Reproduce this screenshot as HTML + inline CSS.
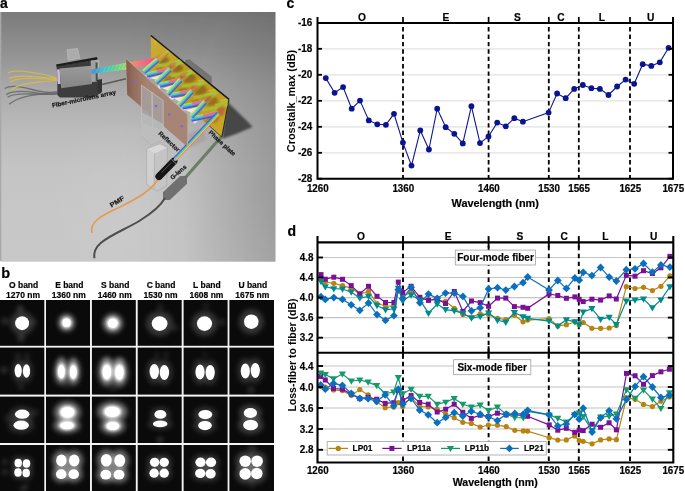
<!DOCTYPE html><html><head><meta charset="utf-8"><style>html,body{margin:0;padding:0;background:#fff;}svg{display:block;-webkit-font-smoothing:antialiased;will-change:transform;}</style></head><body>
<svg width="685" height="491" viewBox="0 0 685 491" font-family='"Liberation Sans", sans-serif'>
<defs>
<filter id="g1" x="-50%" y="-50%" width="200%" height="200%"><feGaussianBlur stdDeviation="0.75"/></filter>
<filter id="g2" x="-60%" y="-60%" width="220%" height="220%"><feGaussianBlur stdDeviation="1.5"/></filter>
<filter id="g3" x="-80%" y="-80%" width="260%" height="260%"><feGaussianBlur stdDeviation="2.6"/></filter>
<linearGradient id="bgA" gradientUnits="userSpaceOnUse" x1="0" y1="12" x2="0" y2="261">
<stop offset="0" stop-color="#7b7b7b"/><stop offset="0.15" stop-color="#909090"/><stop offset="0.31" stop-color="#aaaaaa"/><stop offset="0.47" stop-color="#bbbbbb"/><stop offset="0.63" stop-color="#c4c4c4"/><stop offset="0.8" stop-color="#c7c7c7"/><stop offset="1" stop-color="#c8c8c8"/>
</linearGradient>

<linearGradient id="inbeam" gradientUnits="userSpaceOnUse" x1="91" y1="0" x2="127" y2="0">
<stop offset="0" stop-color="#4a90e0"/><stop offset="0.35" stop-color="#50c8c8"/><stop offset="0.7" stop-color="#70d890"/><stop offset="1" stop-color="#a8e070"/></linearGradient>
<linearGradient id="inbeam2" gradientUnits="userSpaceOnUse" x1="126" y1="0" x2="159" y2="0">
<stop offset="0" stop-color="#f0a060"/><stop offset="0.5" stop-color="#f07080"/><stop offset="1" stop-color="#f04890"/></linearGradient>
<linearGradient id="fmaf" gradientUnits="userSpaceOnUse" x1="0" y1="66" x2="0" y2="88">
<stop offset="0" stop-color="#9a9a9a"/><stop offset="1" stop-color="#858585"/></linearGradient>
<filter id="soft" x="0" y="0" width="100%" height="100%"><feGaussianBlur stdDeviation="0.45"/></filter>
<filter id="b2" x="-50%" y="-50%" width="200%" height="200%"><feGaussianBlur stdDeviation="2.2"/></filter>
<filter id="b1" x="-50%" y="-50%" width="200%" height="200%"><feGaussianBlur stdDeviation="1.2"/></filter>
<filter id="b05" x="-20%" y="-20%" width="140%" height="140%"><feGaussianBlur stdDeviation="0.6"/></filter>
<linearGradient id="gold" gradientUnits="userSpaceOnUse" x1="150" y1="40" x2="228" y2="130">
<stop offset="0" stop-color="#cfac32"/><stop offset="0.4" stop-color="#bb9a24"/><stop offset="0.7" stop-color="#c09c22"/><stop offset="1" stop-color="#cca828"/></linearGradient>
<linearGradient id="refl" gradientUnits="userSpaceOnUse" x1="126" y1="0" x2="188" y2="0">
<stop offset="0" stop-color="#7e5644"/><stop offset="0.12" stop-color="#93695a"/><stop offset="0.35" stop-color="#a7816f"/><stop offset="1" stop-color="#a58272"/></linearGradient>
<linearGradient id="bgA4" gradientUnits="userSpaceOnUse" x1="120" y1="0" x2="275" y2="0">
<stop offset="0" stop-color="#000" stop-opacity="0"/><stop offset="1" stop-color="#000" stop-opacity="0.065"/></linearGradient>
<radialGradient id="bgA2" gradientUnits="userSpaceOnUse" cx="0" cy="0" r="1" gradientTransform="translate(310,190) scale(130,220)">
<stop offset="0" stop-color="#000" stop-opacity="0.22"/><stop offset="1" stop-color="#000" stop-opacity="0"/></radialGradient>
<radialGradient id="bgA3" gradientUnits="userSpaceOnUse" cx="135" cy="200" r="90">
<stop offset="0" stop-color="#fff" stop-opacity="0.06"/><stop offset="1" stop-color="#fff" stop-opacity="0"/></radialGradient>

</defs>
<rect width="685" height="491" fill="#fff"/>
<text x="4.0" y="7.8" font-size="14" text-anchor="middle" font-weight="bold"  stroke="#000" stroke-width="0.18">a</text>
<g filter="url(#soft)">
<rect x="0.8" y="12" width="274.7" height="249.7" fill="url(#bgA)"/>
<rect x="0.8" y="12" width="274.7" height="249.7" fill="url(#bgA2)"/>
<rect x="0.8" y="12" width="274.7" height="249.7" fill="url(#bgA3)"/>
<rect x="0.8" y="12" width="274.7" height="249.7" fill="url(#bgA4)"/>
<rect x="0" y="12" width="1.3" height="249" fill="#a8a8a8"/>
<path d="M227.5,102 L247,121 L252.5,127 L236,134 L222,139 Z" fill="#434343" opacity="0.95" filter="url(#b1)"/>
<path d="M187.3,134 L203,128 L206,140 L190,148 Z" fill="#9a9088" opacity="0.4" filter="url(#b1)"/>
<path d="M183.5,180 L166.5,196" stroke="#6a6a6a" stroke-width="10.5" stroke-linecap="round" opacity="0.92" filter="url(#b05)"/>
<path d="M221.5,136.5 L185.5,177.5" stroke="#607556" stroke-width="3.2" opacity="0.85" filter="url(#b05)"/>
<path d="M165,198 C160,207 152,213 140,220.5 C128,228 110,235 100.7,243 C95,248 93.5,253 94.5,258.3" stroke="#4e4e4e" stroke-width="2" fill="none" filter="url(#b05)"/>
<path d="M102,84.5 L126,78.8" stroke="#4a5040" stroke-width="1.6" opacity="0.85"/>
<path d="M4.6,88.5 Q12,84 30,89 T57,91.6" stroke="#666" stroke-width="1.3" fill="none" opacity="0.85"/>
<path d="M6.1,94.6 Q15,89.5 35,92.6 T57,93" stroke="#666" stroke-width="1.3" fill="none" opacity="0.85"/>
<path d="M7.6,97.2 Q14,93 32,94 T57,93.5" stroke="#666" stroke-width="1.3" fill="none" opacity="0.85"/>
<path d="M9.2,104.3 Q18,96.5 40.7,94.1 T57,94" stroke="#666" stroke-width="1.3" fill="none" opacity="0.85"/>
<path d="M8.1,73.2 Q12,69.5 30.5,72.2 T57,78.3" stroke="#d8ba48" stroke-width="1.1" fill="none"/>
<path d="M9.2,78.8 Q15,74.8 35.6,76.8 T57,78.6" stroke="#d8ba48" stroke-width="1.1" fill="none"/>
<path d="M10.2,81.9 Q18,77.5 38,78.5 T57,79" stroke="#d8ba48" stroke-width="1.1" fill="none"/>
<path d="M11.2,89.5 Q20,83.5 40.7,81.9 T57,79.5" stroke="#d8ba48" stroke-width="1.1" fill="none"/>
<path d="M67.1,49.8 L77.5,48.3 L79.9,58.3 L68.1,60.2 Z" fill="#acacac" stroke="#c4c4c4" stroke-width="0.5"/>
<path d="M57.3,82 L99,77 L101.3,93 L92,97.4 L60,97.4 L57.3,95 Z" fill="#3c3c3c"/>
<path d="M56.5,66 L96,60 L96.5,80 L58,84 Z" fill="#3a3a3a"/>
<path d="M59.5,68.6 L91,65.8 L92,84 L61.2,88.2 Z" fill="url(#fmaf)"/>
<path d="M57,69.5 L59.6,69.3 L60.6,84 L57.8,84 Z" fill="#cbbadf"/>
<path d="M55.9,64.4 L97,57.1 L97.7,59.8 L56.7,66.6 Z" fill="#1e1e1e"/>
<path d="M90.6,60.5 L99.3,59.5 L99.3,81.4 L91.5,82 Z" fill="#b4b4b4" opacity="0.85"/>
<path d="M95.5,62.5 L97.5,62.3 L97.8,81 L95.8,81.2 Z" fill="#3c4a3c" opacity="0.9"/>
<path d="M97,80 L102,79 L102,92 L98,93 Z" fill="#333"/>
<path d="M91.5,69.5 L126.2,62.8 L126.2,69.6 L91.5,73.9 Z" fill="url(#inbeam)"/>
<path d="M94.0,73.075 l2.2,-4.3" stroke="#3a60c0" stroke-width="0.7" opacity="0.35"/>
<path d="M97.8,72.429 l2.2,-4.3" stroke="#3a60c0" stroke-width="0.7" opacity="0.35"/>
<path d="M101.6,71.783 l2.2,-4.3" stroke="#3a60c0" stroke-width="0.7" opacity="0.35"/>
<path d="M105.4,71.137 l2.2,-4.3" stroke="#3a60c0" stroke-width="0.7" opacity="0.35"/>
<path d="M109.2,70.491 l2.2,-4.3" stroke="#3a60c0" stroke-width="0.7" opacity="0.35"/>
<path d="M113.0,69.845 l2.2,-4.3" stroke="#3a60c0" stroke-width="0.7" opacity="0.35"/>
<path d="M116.8,69.199 l2.2,-4.3" stroke="#3a60c0" stroke-width="0.7" opacity="0.35"/>
<path d="M120.6,68.553 l2.2,-4.3" stroke="#3a60c0" stroke-width="0.7" opacity="0.35"/>
<path d="M124.4,67.907 l2.2,-4.3" stroke="#3a60c0" stroke-width="0.7" opacity="0.35"/>
<path d="M184.7,59.3 L189.5,58.8 L212.2,76.5 L212.2,83.5 L205,83.5 L184.7,67 Z" fill="#727272" stroke="#a4a4a4" stroke-width="0.7" opacity="0.95"/>
<path d="M150.9,35.5 L229,99.3 L221.8,137 L150.9,73.5 Z" fill="url(#gold)"/>
<clipPath id="pp"><path d="M150.9,35.5 L229,99.3 L221.8,137 L150.9,73.5 Z"/></clipPath>
<g clip-path="url(#pp)">
<ellipse cx="163" cy="60" rx="6" ry="4" fill="#6a4a12" opacity="0.55" filter="url(#b1)"/>
<ellipse cx="176" cy="68" rx="7" ry="4" fill="#6a4a12" opacity="0.6" filter="url(#b1)"/>
<ellipse cx="188" cy="78" rx="8" ry="5" fill="#6a4a12" opacity="0.55" filter="url(#b1)"/>
<ellipse cx="199" cy="90" rx="8" ry="5" fill="#6a4a12" opacity="0.55" filter="url(#b1)"/>
<ellipse cx="210" cy="101" rx="8" ry="5" fill="#6a4a12" opacity="0.5" filter="url(#b1)"/>
<ellipse cx="184" cy="92" rx="6" ry="4" fill="#6a4a12" opacity="0.45" filter="url(#b1)"/>
<ellipse cx="197" cy="104" rx="6" ry="4" fill="#6a4a12" opacity="0.45" filter="url(#b1)"/>
<ellipse cx="213" cy="118" rx="6" ry="5" fill="#6a4a12" opacity="0.4" filter="url(#b1)"/>
<ellipse cx="170" cy="80" rx="6" ry="4" fill="#6a4a12" opacity="0.4" filter="url(#b1)"/>
<ellipse cx="160" cy="70" rx="4" ry="3" fill="#6a4a12" opacity="0.4" filter="url(#b1)"/>
<ellipse cx="221" cy="110" rx="4" ry="6" fill="#6a4a12" opacity="0.4" filter="url(#b1)"/>
<ellipse cx="205" cy="124" rx="5" ry="4" fill="#6a4a12" opacity="0.35" filter="url(#b1)"/>
<path d="M176.0,46.0 L156.0,64.0" stroke="#a4bc38" stroke-width="2.6" opacity="0.65"/>
<path d="M160.0,56.0 L190.0,49.0" stroke="#b4c83c" stroke-width="2.2" opacity="0.55"/>
<path d="M154.0,42.0 L172.0,38.0" stroke="#e0c840" stroke-width="1.8" opacity="0.5"/>
<path d="M187.0,55.8 L167.0,73.8" stroke="#a4bc38" stroke-width="2.6" opacity="0.65"/>
<path d="M171.0,65.8 L201.0,58.8" stroke="#b4c83c" stroke-width="2.2" opacity="0.55"/>
<path d="M165.0,51.8 L183.0,47.8" stroke="#e0c840" stroke-width="1.8" opacity="0.5"/>
<path d="M198.0,65.6 L178.0,83.6" stroke="#a4bc38" stroke-width="2.6" opacity="0.65"/>
<path d="M182.0,75.6 L212.0,68.6" stroke="#b4c83c" stroke-width="2.2" opacity="0.55"/>
<path d="M176.0,61.6 L194.0,57.6" stroke="#e0c840" stroke-width="1.8" opacity="0.5"/>
<path d="M209.0,75.4 L189.0,93.4" stroke="#a4bc38" stroke-width="2.6" opacity="0.65"/>
<path d="M193.0,85.4 L223.0,78.4" stroke="#b4c83c" stroke-width="2.2" opacity="0.55"/>
<path d="M187.0,71.4 L205.0,67.4" stroke="#e0c840" stroke-width="1.8" opacity="0.5"/>
<path d="M220.0,85.2 L200.0,103.2" stroke="#a4bc38" stroke-width="2.6" opacity="0.65"/>
<path d="M204.0,95.2 L234.0,88.2" stroke="#b4c83c" stroke-width="2.2" opacity="0.55"/>
<path d="M198.0,81.2 L216.0,77.2" stroke="#e0c840" stroke-width="1.8" opacity="0.5"/>
<path d="M231.0,95.0 L211.0,113.0" stroke="#a4bc38" stroke-width="2.6" opacity="0.65"/>
<path d="M215.0,105.0 L245.0,98.0" stroke="#b4c83c" stroke-width="2.2" opacity="0.55"/>
<path d="M209.0,91.0 L227.0,87.0" stroke="#e0c840" stroke-width="1.8" opacity="0.5"/>
<path d="M242.0,104.80000000000001 L222.0,122.80000000000001" stroke="#a4bc38" stroke-width="2.6" opacity="0.65"/>
<path d="M226.0,114.80000000000001 L256.0,107.80000000000001" stroke="#b4c83c" stroke-width="2.2" opacity="0.55"/>
<path d="M220.0,100.80000000000001 L238.0,96.80000000000001" stroke="#e0c840" stroke-width="1.8" opacity="0.5"/>
<path d="M253.0,114.60000000000001 L233.0,132.60000000000002" stroke="#a4bc38" stroke-width="2.6" opacity="0.65"/>
<path d="M237.0,124.60000000000001 L267.0,117.60000000000001" stroke="#b4c83c" stroke-width="2.2" opacity="0.55"/>
<path d="M231.0,110.60000000000001 L249.0,106.60000000000001" stroke="#e0c840" stroke-width="1.8" opacity="0.5"/>
</g>
<path d="M150.9,35.5 L229,99.3" stroke="#1a1a1a" stroke-width="1.6"/>
<path d="M229,99.3 L221.8,137" stroke="#2a2418" stroke-width="1.1"/>
<path d="M221.8,137 L208,124.6" stroke="#3a3020" stroke-width="0.8"/>
<path d="M126,62.8 L158.5,57 L158.5,62.5 L126,69.6 Z" fill="url(#inbeam2)"/>
<line x1="157.81" y1="58.56" x2="167.31" y2="51.56" stroke="#f09040" stroke-width="1.47" opacity="1.0"/><line x1="158.50" y1="59.50" x2="168.00" y2="52.50" stroke="#f07048" stroke-width="1.47" opacity="1.0"/><line x1="159.19" y1="60.44" x2="168.69" y2="53.44" stroke="#e06038" stroke-width="1.47" opacity="1.0"/>
<g clip-path="url(#pp)" opacity="0.5">
<path d="M157.4,66.2 L181,60.5" stroke="#9ed040" stroke-width="3.2"/>
<path d="M170.5,76.2 L191.7,71" stroke="#9ed040" stroke-width="3.2"/>
<path d="M181.9,86.5 L203,82.5" stroke="#9ed040" stroke-width="3.2"/>
<path d="M193.3,98 L216.1,93" stroke="#9ed040" stroke-width="3.2"/>
<path d="M202.3,110.2 L229.2,104.5" stroke="#9ed040" stroke-width="3.2"/>
<path d="M168.8,50.7 L155,62.900000000000006" stroke="#9ed040" stroke-width="3.2"/>
<path d="M181,60.5 L167.2,73.5" stroke="#9ed040" stroke-width="3.2"/>
<path d="M191.7,71 L178.6,84.9" stroke="#9ed040" stroke-width="3.2"/>
<path d="M203,82.5 L190,96.3" stroke="#9ed040" stroke-width="3.2"/>
<path d="M216.1,93 L202.3,107.7" stroke="#9ed040" stroke-width="3.2"/>
<circle cx="173" cy="66.5" r="3.5" fill="#e85060" opacity="0.8" filter="url(#b1)"/>
<circle cx="183.7" cy="77" r="3.5" fill="#e85060" opacity="0.8" filter="url(#b1)"/>
<circle cx="195" cy="88.5" r="3.5" fill="#e85060" opacity="0.8" filter="url(#b1)"/>
<circle cx="208.1" cy="99" r="3.5" fill="#e85060" opacity="0.8" filter="url(#b1)"/>
<circle cx="221.2" cy="110.5" r="3.5" fill="#e85060" opacity="0.8" filter="url(#b1)"/>
</g>
<path d="M145,74.4 l6,1.5 l-4,3 z" fill="#eeeef6" opacity="0.85"/>
<path d="M157.2,85.0 l6,1.5 l-4,3 z" fill="#eeeef6" opacity="0.85"/>
<path d="M168.6,96.4 l6,1.5 l-4,3 z" fill="#eeeef6" opacity="0.85"/>
<path d="M180,107.8 l6,1.5 l-4,3 z" fill="#eeeef6" opacity="0.85"/>
<path d="M192.3,119.2 l6,1.5 l-4,3 z" fill="#eeeef6" opacity="0.85"/>
<path d="M149.4,78.2 L164,74.0 L160.2,80.5 Z" fill="#ecebf3" opacity="0.95"/>
<path d="M162.5,88.2 L174.7,84.5 L171.6,91.9 Z" fill="#ecebf3" opacity="0.95"/>
<path d="M173.9,98.5 L186,96.0 L183,103.3 Z" fill="#ecebf3" opacity="0.95"/>
<path d="M185.3,110 L199.1,106.5 L195.3,114.7 Z" fill="#ecebf3" opacity="0.95"/>
<line x1="145.93" y1="73.26" x2="169.53" y2="67.56" stroke="#a8e070" stroke-width="1.30" opacity="1.0"/><line x1="146.17" y1="74.23" x2="169.77" y2="68.53" stroke="#60e090" stroke-width="1.30" opacity="1.0"/><line x1="146.40" y1="75.20" x2="170.00" y2="69.50" stroke="#40d0d0" stroke-width="1.30" opacity="1.0"/><line x1="146.63" y1="76.17" x2="170.23" y2="70.47" stroke="#4090e0" stroke-width="1.30" opacity="1.0"/><line x1="146.87" y1="77.14" x2="170.47" y2="71.44" stroke="#5050e0" stroke-width="1.30" opacity="1.0"/>
<path d="M156.43,70.20 L169.41,67.07 L170.07,69.79 L157.09,72.93 Z" fill="#f06090" opacity="0.85"/>
<line x1="159.02" y1="83.26" x2="180.22" y2="78.06" stroke="#a8e070" stroke-width="1.30" opacity="1.0"/><line x1="159.26" y1="84.23" x2="180.46" y2="79.03" stroke="#60e090" stroke-width="1.30" opacity="1.0"/><line x1="159.50" y1="85.20" x2="180.70" y2="80.00" stroke="#40d0d0" stroke-width="1.30" opacity="1.0"/><line x1="159.74" y1="86.17" x2="180.94" y2="80.97" stroke="#4090e0" stroke-width="1.30" opacity="1.0"/><line x1="159.98" y1="87.14" x2="181.18" y2="81.94" stroke="#5050e0" stroke-width="1.30" opacity="1.0"/>
<path d="M168.44,80.43 L180.10,77.57 L180.77,80.29 L169.11,83.15 Z" fill="#f06090" opacity="0.85"/>
<line x1="170.53" y1="93.53" x2="191.63" y2="89.53" stroke="#a8e070" stroke-width="1.30" opacity="1.0"/><line x1="170.71" y1="94.52" x2="191.81" y2="90.52" stroke="#60e090" stroke-width="1.30" opacity="1.0"/><line x1="170.90" y1="95.50" x2="192.00" y2="91.50" stroke="#40d0d0" stroke-width="1.30" opacity="1.0"/><line x1="171.09" y1="96.48" x2="192.19" y2="92.48" stroke="#4090e0" stroke-width="1.30" opacity="1.0"/><line x1="171.27" y1="97.47" x2="192.37" y2="93.47" stroke="#5050e0" stroke-width="1.30" opacity="1.0"/>
<path d="M179.93,91.24 L191.53,89.04 L192.06,91.79 L180.45,93.99 Z" fill="#f06090" opacity="0.85"/>
<line x1="181.87" y1="105.05" x2="204.67" y2="100.05" stroke="#a8e070" stroke-width="1.30" opacity="1.0"/><line x1="182.09" y1="106.02" x2="204.89" y2="101.02" stroke="#60e090" stroke-width="1.30" opacity="1.0"/><line x1="182.30" y1="107.00" x2="205.10" y2="102.00" stroke="#40d0d0" stroke-width="1.30" opacity="1.0"/><line x1="182.51" y1="107.98" x2="205.31" y2="102.98" stroke="#4090e0" stroke-width="1.30" opacity="1.0"/><line x1="182.73" y1="108.95" x2="205.53" y2="103.95" stroke="#5050e0" stroke-width="1.30" opacity="1.0"/>
<path d="M192.02,102.31 L204.56,99.56 L205.16,102.29 L192.62,105.04 Z" fill="#f06090" opacity="0.85"/>
<line x1="190.89" y1="117.24" x2="217.79" y2="111.54" stroke="#a8e070" stroke-width="1.30" opacity="1.0"/><line x1="191.09" y1="118.22" x2="217.99" y2="112.52" stroke="#60e090" stroke-width="1.30" opacity="1.0"/><line x1="191.30" y1="119.20" x2="218.20" y2="113.50" stroke="#40d0d0" stroke-width="1.30" opacity="1.0"/><line x1="191.51" y1="120.18" x2="218.41" y2="114.48" stroke="#4090e0" stroke-width="1.30" opacity="1.0"/><line x1="191.71" y1="121.16" x2="218.61" y2="115.46" stroke="#5050e0" stroke-width="1.30" opacity="1.0"/>
<path d="M202.89,114.19 L217.68,111.05 L218.26,113.79 L203.47,116.93 Z" fill="#f06090" opacity="0.85"/>
<line x1="159.07" y1="61.14" x2="145.27" y2="73.34" stroke="#6050d8" stroke-width="1.26" opacity="1.0"/><line x1="158.44" y1="60.42" x2="144.64" y2="72.62" stroke="#4080e0" stroke-width="1.26" opacity="1.0"/><line x1="157.80" y1="59.70" x2="144.00" y2="71.90" stroke="#40d0d8" stroke-width="1.26" opacity="1.0"/><line x1="157.16" y1="58.98" x2="143.36" y2="71.18" stroke="#70e080" stroke-width="1.26" opacity="1.0"/><line x1="156.53" y1="58.26" x2="142.73" y2="70.46" stroke="#d0e070" stroke-width="1.26" opacity="1.0"/>
<line x1="171.32" y1="70.90" x2="157.52" y2="83.90" stroke="#6050d8" stroke-width="1.26" opacity="1.0"/><line x1="170.66" y1="70.20" x2="156.86" y2="83.20" stroke="#4080e0" stroke-width="1.26" opacity="1.0"/><line x1="170.00" y1="69.50" x2="156.20" y2="82.50" stroke="#40d0d8" stroke-width="1.26" opacity="1.0"/><line x1="169.34" y1="68.80" x2="155.54" y2="81.80" stroke="#70e080" stroke-width="1.26" opacity="1.0"/><line x1="168.68" y1="68.10" x2="154.88" y2="81.10" stroke="#d0e070" stroke-width="1.26" opacity="1.0"/>
<line x1="182.10" y1="81.32" x2="169.00" y2="95.22" stroke="#6050d8" stroke-width="1.26" opacity="1.0"/><line x1="181.40" y1="80.66" x2="168.30" y2="94.56" stroke="#4080e0" stroke-width="1.26" opacity="1.0"/><line x1="180.70" y1="80.00" x2="167.60" y2="93.90" stroke="#40d0d8" stroke-width="1.26" opacity="1.0"/><line x1="180.00" y1="79.34" x2="166.90" y2="93.24" stroke="#70e080" stroke-width="1.26" opacity="1.0"/><line x1="179.30" y1="78.68" x2="166.20" y2="92.58" stroke="#d0e070" stroke-width="1.26" opacity="1.0"/>
<line x1="193.40" y1="92.82" x2="180.40" y2="106.62" stroke="#6050d8" stroke-width="1.26" opacity="1.0"/><line x1="192.70" y1="92.16" x2="179.70" y2="105.96" stroke="#4080e0" stroke-width="1.26" opacity="1.0"/><line x1="192.00" y1="91.50" x2="179.00" y2="105.30" stroke="#40d0d8" stroke-width="1.26" opacity="1.0"/><line x1="191.30" y1="90.84" x2="178.30" y2="104.64" stroke="#70e080" stroke-width="1.26" opacity="1.0"/><line x1="190.60" y1="90.18" x2="177.60" y2="103.98" stroke="#d0e070" stroke-width="1.26" opacity="1.0"/>
<line x1="206.50" y1="103.31" x2="192.70" y2="118.01" stroke="#6050d8" stroke-width="1.26" opacity="1.0"/><line x1="205.80" y1="102.66" x2="192.00" y2="117.36" stroke="#4080e0" stroke-width="1.26" opacity="1.0"/><line x1="205.10" y1="102.00" x2="191.30" y2="116.70" stroke="#40d0d8" stroke-width="1.26" opacity="1.0"/><line x1="204.40" y1="101.34" x2="190.60" y2="116.04" stroke="#70e080" stroke-width="1.26" opacity="1.0"/><line x1="203.70" y1="100.69" x2="189.90" y2="115.39" stroke="#d0e070" stroke-width="1.26" opacity="1.0"/>
<line x1="219.48" y1="114.71" x2="176.88" y2="159.71" stroke="#f07080" stroke-width="1.18" opacity="1.0"/><line x1="218.84" y1="114.10" x2="176.24" y2="159.10" stroke="#e8d860" stroke-width="1.18" opacity="1.0"/><line x1="218.20" y1="113.50" x2="175.60" y2="158.50" stroke="#60d860" stroke-width="1.18" opacity="1.0"/><line x1="217.56" y1="112.90" x2="174.96" y2="157.90" stroke="#40b8e0" stroke-width="1.18" opacity="1.0"/><line x1="216.92" y1="112.29" x2="174.32" y2="157.29" stroke="#5058e0" stroke-width="1.18" opacity="1.0"/>
<path d="M126.2,58.7 L187.6,114.6 L187.6,147 L127.2,94.7 Z" fill="url(#refl)" opacity="0.94"/>
<path d="M126.2,58.7 L187.6,114.6" stroke="#c8aa9a" stroke-width="0.8"/>
<path d="M187.6,114.6 L187.6,147" stroke="#c0a090" stroke-width="1"/>
<path d="M141.5,85.2 L163.2,100.5 L163.2,131 L141.5,123.4 Z" fill="#a4a0a0" opacity="0.85"/>
<path d="M141.5,85.2 L163.2,100.5 L163.2,131 L141.5,123.4 Z" fill="none" stroke="#c8c4c4" stroke-width="0.8" opacity="0.9"/>
<path d="M152,92.5 L152.5,127" stroke="#d0cccc" stroke-width="1.2" opacity="0.7"/>
<path d="M141.5,112 L163.2,124 L163.2,140 L151,145 L141.5,136 Z" fill="#bdbdbd" opacity="0.75"/>
<path d="M141.5,136 L151,145 L163.2,140" fill="none" stroke="#b0b0b0" stroke-width="0.7"/>
<circle cx="133.3" cy="81.5" r="1.3" fill="#7860e0" opacity="0.85"/>
<circle cx="169.3" cy="114.6" r="1.3" fill="#7860e0" opacity="0.85"/>
<circle cx="181.5" cy="126.2" r="1.3" fill="#7860e0" opacity="0.85"/>
<circle cx="156" cy="106" r="1.3" fill="#7860e0" opacity="0.85"/>
<path d="M146.6,148.8 L160,143.8 L167.5,147.5 L166.5,186 L157.1,191.3 L146.6,184.5 Z" fill="#c6c6c6" opacity="0.8"/>
<path d="M146.6,148.8 L160,143.8 L167.5,147.5 L154.5,153.5 Z" fill="#dcdcdc" opacity="0.9"/>
<path d="M146.6,148.8 L154.5,153.5 L154,189 L146.6,184.5 Z" fill="#d4d4d4" opacity="0.7"/>
<path d="M146.6,148.8 L160,143.8 L167.5,147.5 L166.5,186 L157.1,191.3 L146.6,184.5 Z M154.5,153.5 L154,189" fill="none" stroke="#a8a8a8" stroke-width="0.7" opacity="0.9"/>
<path d="M158.5,178 C152,190 140,197 120,207 C100,216 90,222 91.8,233" stroke="#e69a50" stroke-width="1.6" fill="none"/>
<path d="M159,176.5 L173.8,161.2" stroke="#151515" stroke-width="7.2" stroke-linecap="round"/>
<path d="M161.5,172.5 L171.5,162.5" stroke="#6a6a6a" stroke-width="1" opacity="0.7"/>
<path d="M171.5,159.3 L176.5,164.2" stroke="#b0b0b0" stroke-width="1" opacity="0.8"/>
<circle cx="175.5" cy="159.2" r="1.8" fill="#d0d0e8" opacity="0.8"/>
</g>
<text transform="translate(52.4,107.6) rotate(-12) scale(0.9,0.85)" font-size="7.1" font-family='"Liberation Sans", sans-serif' font-weight="bold" fill="#141414" stroke="#141414" stroke-width="0.22">Fiber-microlens array</text>
<text transform="translate(158.0,134.0) rotate(43) scale(0.9,0.9)" font-size="6.8" font-family='"Liberation Sans", sans-serif' font-weight="bold" fill="#141414" stroke="#141414" stroke-width="0.22">Reflector</text>
<text transform="translate(208.3,133.0) rotate(43) scale(0.9,0.9)" font-size="6.8" font-family='"Liberation Sans", sans-serif' font-weight="bold" fill="#141414" stroke="#141414" stroke-width="0.22">Phase plate</text>
<text transform="translate(172.6,180.0) rotate(-41) scale(0.9,0.9)" font-size="6.8" font-family='"Liberation Sans", sans-serif' font-weight="bold" fill="#141414" stroke="#141414" stroke-width="0.22">G-lens</text>
<text transform="translate(111.6,207.4) rotate(-31) scale(1,0.9)" font-size="7.3" font-family='"Liberation Sans", sans-serif' font-weight="bold" fill="#141414" stroke="#141414" stroke-width="0.22">PMF</text>
<text transform="translate(23.6,288.0) scale(1.0,1.1)" font-size="8.5" text-anchor="middle" font-weight="bold"  stroke="#000" stroke-width="0.18">O band</text>
<text transform="translate(23.1,297.9) scale(1.0,1.1)" font-size="8.5" text-anchor="middle" font-weight="bold"  stroke="#000" stroke-width="0.18">1270 nm</text>
<text transform="translate(69.3,288.0) scale(1.0,1.1)" font-size="8.5" text-anchor="middle" font-weight="bold"  stroke="#000" stroke-width="0.18">E band</text>
<text transform="translate(68.8,297.9) scale(1.0,1.1)" font-size="8.5" text-anchor="middle" font-weight="bold"  stroke="#000" stroke-width="0.18">1360 nm</text>
<text transform="translate(115.2,288.0) scale(1.0,1.1)" font-size="8.5" text-anchor="middle" font-weight="bold"  stroke="#000" stroke-width="0.18">S band</text>
<text transform="translate(114.7,297.9) scale(1.0,1.1)" font-size="8.5" text-anchor="middle" font-weight="bold"  stroke="#000" stroke-width="0.18">1460 nm</text>
<text transform="translate(161.0,288.0) scale(1.0,1.1)" font-size="8.5" text-anchor="middle" font-weight="bold"  stroke="#000" stroke-width="0.18">C band</text>
<text transform="translate(160.5,297.9) scale(1.0,1.1)" font-size="8.5" text-anchor="middle" font-weight="bold"  stroke="#000" stroke-width="0.18">1530 nm</text>
<text transform="translate(206.9,288.0) scale(1.0,1.1)" font-size="8.5" text-anchor="middle" font-weight="bold"  stroke="#000" stroke-width="0.18">L band</text>
<text transform="translate(206.4,297.9) scale(1.0,1.1)" font-size="8.5" text-anchor="middle" font-weight="bold"  stroke="#000" stroke-width="0.18">1608 nm</text>
<text transform="translate(252.8,288.0) scale(1.0,1.1)" font-size="8.5" text-anchor="middle" font-weight="bold"  stroke="#000" stroke-width="0.18">U band</text>
<text transform="translate(252.3,297.9) scale(1.0,1.1)" font-size="8.5" text-anchor="middle" font-weight="bold"  stroke="#000" stroke-width="0.18">1675 nm</text>
<text x="5.6" y="277.6" font-size="14.5" text-anchor="middle" font-weight="bold"  stroke="#000" stroke-width="0.18">b</text>
<rect x="0" y="300" width="274.2" height="191" fill="#f4f4f4"/>
<rect x="0" y="300.0" width="44.3" height="45.8" fill="#0a0a0a"/>
<rect x="46.0" y="300.0" width="44.0" height="45.8" fill="#0a0a0a"/>
<rect x="91.9" y="300.0" width="43.9" height="45.8" fill="#0a0a0a"/>
<rect x="137.7" y="300.0" width="44.0" height="45.8" fill="#0a0a0a"/>
<rect x="183.6" y="300.0" width="44.0" height="45.8" fill="#0a0a0a"/>
<rect x="229.4" y="300.0" width="44.6" height="45.8" fill="#0a0a0a"/>
<rect x="0" y="347.6" width="44.3" height="47.0" fill="#0a0a0a"/>
<rect x="46.0" y="347.6" width="44.0" height="47.0" fill="#0a0a0a"/>
<rect x="91.9" y="347.6" width="43.9" height="47.0" fill="#0a0a0a"/>
<rect x="137.7" y="347.6" width="44.0" height="47.0" fill="#0a0a0a"/>
<rect x="183.6" y="347.6" width="44.0" height="47.0" fill="#0a0a0a"/>
<rect x="229.4" y="347.6" width="44.6" height="47.0" fill="#0a0a0a"/>
<rect x="0" y="396.6" width="44.3" height="46.4" fill="#0a0a0a"/>
<rect x="46.0" y="396.6" width="44.0" height="46.4" fill="#0a0a0a"/>
<rect x="91.9" y="396.6" width="43.9" height="46.4" fill="#0a0a0a"/>
<rect x="137.7" y="396.6" width="44.0" height="46.4" fill="#0a0a0a"/>
<rect x="183.6" y="396.6" width="44.0" height="46.4" fill="#0a0a0a"/>
<rect x="229.4" y="396.6" width="44.6" height="46.4" fill="#0a0a0a"/>
<rect x="0" y="445.0" width="44.3" height="46.0" fill="#0a0a0a"/>
<rect x="46.0" y="445.0" width="44.0" height="46.0" fill="#0a0a0a"/>
<rect x="91.9" y="445.0" width="43.9" height="46.0" fill="#0a0a0a"/>
<rect x="137.7" y="445.0" width="44.0" height="46.0" fill="#0a0a0a"/>
<rect x="183.6" y="445.0" width="44.0" height="46.0" fill="#0a0a0a"/>
<rect x="229.4" y="445.0" width="44.6" height="46.0" fill="#0a0a0a"/>
<ellipse cx="20" cy="309" rx="3" ry="3" fill="#fff" opacity="0.25" filter="url(#g3)"/>
<ellipse cx="5" cy="321" rx="3" ry="3" fill="#fff" opacity="0.2" filter="url(#g3)"/>
<ellipse cx="21" cy="338" rx="3.5" ry="3.5" fill="#fff" opacity="0.2" filter="url(#g3)"/>
<ellipse cx="34" cy="322" rx="2.5" ry="2.5" fill="#fff" opacity="0.15" filter="url(#g3)"/>
<ellipse cx="18" cy="356" rx="2" ry="2" fill="#fff" opacity="0.25" filter="url(#g3)"/>
<ellipse cx="27" cy="356" rx="2" ry="2" fill="#fff" opacity="0.25" filter="url(#g3)"/>
<ellipse cx="4" cy="370" rx="3" ry="3" fill="#fff" opacity="0.2" filter="url(#g3)"/>
<ellipse cx="21" cy="386" rx="3" ry="3" fill="#fff" opacity="0.15" filter="url(#g3)"/>
<ellipse cx="160" cy="307" rx="3" ry="3" fill="#fff" opacity="0.12" filter="url(#g3)"/>
<ellipse cx="175" cy="328" rx="3" ry="3" fill="#fff" opacity="0.12" filter="url(#g3)"/>
<ellipse cx="206" cy="306" rx="3" ry="3" fill="#fff" opacity="0.1" filter="url(#g3)"/>
<ellipse cx="222" cy="322" rx="3" ry="3" fill="#fff" opacity="0.15" filter="url(#g3)"/>
<ellipse cx="157" cy="355" rx="2" ry="2" fill="#fff" opacity="0.2" filter="url(#g3)"/>
<ellipse cx="166" cy="355" rx="2" ry="2" fill="#fff" opacity="0.2" filter="url(#g3)"/>
<ellipse cx="205" cy="355" rx="2" ry="2" fill="#fff" opacity="0.15" filter="url(#g3)"/>
<ellipse cx="8" cy="418" rx="3" ry="3" fill="#fff" opacity="0.15" filter="url(#g3)"/>
<ellipse cx="36" cy="412" rx="2.5" ry="2.5" fill="#fff" opacity="0.12" filter="url(#g3)"/>
<ellipse cx="160" cy="440" rx="3" ry="3" fill="#fff" opacity="0.2" filter="url(#g3)"/>
<ellipse cx="23" cy="489" rx="2.5" ry="2.5" fill="#fff" opacity="0.2" filter="url(#g3)"/>
<ellipse cx="26" cy="486" rx="2" ry="2" fill="#fff" opacity="0.2" filter="url(#g3)"/>
<ellipse cx="5" cy="462" rx="2.5" ry="2.5" fill="#fff" opacity="0.2" filter="url(#g3)"/>
<ellipse cx="5" cy="472" rx="2.5" ry="2.5" fill="#fff" opacity="0.2" filter="url(#g3)"/>
<ellipse cx="67" cy="385" rx="3" ry="3" fill="#fff" opacity="0.12" filter="url(#g3)"/>
<ellipse cx="113" cy="388" rx="3" ry="3" fill="#fff" opacity="0.15" filter="url(#g3)"/>
<ellipse cx="251" cy="390" rx="3" ry="3" fill="#fff" opacity="0.2" filter="url(#g3)"/>
<ellipse cx="252" cy="449" rx="4" ry="4" fill="#fff" opacity="0.15" filter="url(#g3)"/>
<ellipse cx="252" cy="485" rx="3" ry="3" fill="#fff" opacity="0.12" filter="url(#g3)"/>
<ellipse cx="22.1" cy="323.2" rx="11.8" ry="11.8" fill="#fff" opacity="0.18" filter="url(#g3)"/><ellipse cx="22.1" cy="323.2" rx="6.96" ry="6.96" fill="#fff" filter="url(#g1)"/>
<ellipse cx="66.5" cy="322.7" rx="8.0" ry="8.4" fill="#fff" opacity="0.55" filter="url(#g3)"/><ellipse cx="66.5" cy="322.7" rx="4.94" ry="5.17" fill="#fff" filter="url(#g2)"/><ellipse cx="66.5" cy="322.7" rx="4.00" ry="4.18" fill="#fff" filter="url(#g1)"/>
<ellipse cx="112.8" cy="323.3" rx="9.6" ry="9.3" fill="#fff" opacity="0.55" filter="url(#g3)"/><ellipse cx="112.8" cy="323.3" rx="5.95" ry="5.73" fill="#fff" filter="url(#g2)"/><ellipse cx="112.8" cy="323.3" rx="4.82" ry="4.64" fill="#fff" filter="url(#g1)"/>
<ellipse cx="159.6" cy="323.6" rx="13.5" ry="12.4" fill="#fff" opacity="0.18" filter="url(#g3)"/><ellipse cx="159.6" cy="323.6" rx="7.92" ry="7.28" fill="#fff" filter="url(#g1)"/>
<ellipse cx="204.5" cy="323.6" rx="12.9" ry="12.4" fill="#fff" opacity="0.18" filter="url(#g3)"/><ellipse cx="204.5" cy="323.6" rx="7.60" ry="7.28" fill="#fff" filter="url(#g1)"/>
<ellipse cx="251.3" cy="321.7" rx="12.4" ry="12.4" fill="#fff" opacity="0.18" filter="url(#g3)"/><ellipse cx="251.3" cy="321.7" rx="7.28" ry="7.28" fill="#fff" filter="url(#g1)"/>
<ellipse cx="18.2" cy="370.8" rx="6.2" ry="11.5" fill="#fff" opacity="0.15" filter="url(#g3)"/><ellipse cx="18.2" cy="370.8" rx="3.64" ry="6.74" fill="#fff" filter="url(#g1)"/>
<ellipse cx="26.5" cy="371.0" rx="6.2" ry="11.5" fill="#fff" opacity="0.15" filter="url(#g3)"/><ellipse cx="26.5" cy="371.0" rx="3.64" ry="6.74" fill="#fff" filter="url(#g1)"/>
<ellipse cx="61.4" cy="371.6" rx="6.9" ry="13.1" fill="#fff" opacity="0.45" filter="url(#g3)"/><ellipse cx="61.4" cy="371.6" rx="4.27" ry="8.09" fill="#fff" filter="url(#g2)"/><ellipse cx="61.4" cy="371.6" rx="3.46" ry="6.55" fill="#fff" filter="url(#g1)"/>
<ellipse cx="73.3" cy="372.1" rx="6.9" ry="13.1" fill="#fff" opacity="0.45" filter="url(#g3)"/><ellipse cx="73.3" cy="372.1" rx="4.27" ry="8.09" fill="#fff" filter="url(#g2)"/><ellipse cx="73.3" cy="372.1" rx="3.46" ry="6.55" fill="#fff" filter="url(#g1)"/>
<ellipse cx="61.4" cy="362.6" rx="3.0" ry="6" fill="#fff" opacity="0.25" filter="url(#g3)"/>
<ellipse cx="73.3" cy="363.1" rx="3.0" ry="6" fill="#fff" opacity="0.25" filter="url(#g3)"/>
<ellipse cx="106.8" cy="372.0" rx="8.5" ry="14.2" fill="#fff" opacity="0.45" filter="url(#g3)"/><ellipse cx="106.8" cy="372.0" rx="5.28" ry="8.76" fill="#fff" filter="url(#g2)"/><ellipse cx="106.8" cy="372.0" rx="4.27" ry="7.09" fill="#fff" filter="url(#g1)"/>
<ellipse cx="119.4" cy="372.5" rx="8.5" ry="14.2" fill="#fff" opacity="0.45" filter="url(#g3)"/><ellipse cx="119.4" cy="372.5" rx="5.28" ry="8.76" fill="#fff" filter="url(#g2)"/><ellipse cx="119.4" cy="372.5" rx="4.27" ry="7.09" fill="#fff" filter="url(#g1)"/>
<ellipse cx="106.8" cy="363.0" rx="3.8" ry="6" fill="#fff" opacity="0.25" filter="url(#g3)"/>
<ellipse cx="119.4" cy="363.5" rx="3.8" ry="6" fill="#fff" opacity="0.25" filter="url(#g3)"/>
<ellipse cx="154.3" cy="371.6" rx="8.0" ry="12.7" fill="#fff" opacity="0.15" filter="url(#g3)"/><ellipse cx="154.3" cy="371.6" rx="4.71" ry="7.49" fill="#fff" filter="url(#g1)"/>
<ellipse cx="164.4" cy="372.5" rx="8.0" ry="12.7" fill="#fff" opacity="0.15" filter="url(#g3)"/><ellipse cx="164.4" cy="372.5" rx="4.71" ry="7.49" fill="#fff" filter="url(#g1)"/>
<ellipse cx="200.0" cy="372.0" rx="7.8" ry="12.7" fill="#fff" opacity="0.15" filter="url(#g3)"/><ellipse cx="200.0" cy="372.0" rx="4.60" ry="7.49" fill="#fff" filter="url(#g1)"/>
<ellipse cx="210.2" cy="372.6" rx="7.8" ry="12.7" fill="#fff" opacity="0.15" filter="url(#g3)"/><ellipse cx="210.2" cy="372.6" rx="4.60" ry="7.49" fill="#fff" filter="url(#g1)"/>
<ellipse cx="245.3" cy="371.0" rx="7.8" ry="12.7" fill="#fff" opacity="0.15" filter="url(#g3)"/><ellipse cx="245.3" cy="371.0" rx="4.60" ry="7.49" fill="#fff" filter="url(#g1)"/>
<ellipse cx="255.3" cy="370.5" rx="7.8" ry="12.7" fill="#fff" opacity="0.15" filter="url(#g3)"/><ellipse cx="255.3" cy="370.5" rx="4.60" ry="7.49" fill="#fff" filter="url(#g1)"/>
<ellipse cx="22.2" cy="414.2" rx="12.4" ry="7.8" fill="#fff" opacity="0.15" filter="url(#g3)"/><ellipse cx="22.2" cy="414.2" rx="7.28" ry="4.60" fill="#fff" filter="url(#g1)"/>
<ellipse cx="21.2" cy="425.2" rx="13.1" ry="7.8" fill="#fff" opacity="0.15" filter="url(#g3)"/><ellipse cx="21.2" cy="425.2" rx="7.70" ry="4.60" fill="#fff" filter="url(#g1)"/>
<ellipse cx="67.5" cy="412.3" rx="13.3" ry="10.7" fill="#fff" opacity="0.45" filter="url(#g3)"/><ellipse cx="67.5" cy="412.3" rx="8.20" ry="6.63" fill="#fff" filter="url(#g2)"/><ellipse cx="67.5" cy="412.3" rx="6.64" ry="5.37" fill="#fff" filter="url(#g1)"/>
<ellipse cx="67.0" cy="425.5" rx="13.3" ry="7.6" fill="#fff" opacity="0.45" filter="url(#g3)"/><ellipse cx="67.0" cy="425.5" rx="8.20" ry="4.72" fill="#fff" filter="url(#g2)"/><ellipse cx="67.0" cy="425.5" rx="6.64" ry="3.82" fill="#fff" filter="url(#g1)"/>
<ellipse cx="112.3" cy="411.8" rx="14.9" ry="10.2" fill="#fff" opacity="0.45" filter="url(#g3)"/><ellipse cx="112.3" cy="411.8" rx="9.21" ry="6.29" fill="#fff" filter="url(#g2)"/><ellipse cx="112.3" cy="411.8" rx="7.46" ry="5.09" fill="#fff" filter="url(#g1)"/>
<ellipse cx="112.8" cy="426.0" rx="12.4" ry="8.2" fill="#fff" opacity="0.45" filter="url(#g3)"/><ellipse cx="112.8" cy="426.0" rx="7.64" ry="5.06" fill="#fff" filter="url(#g2)"/><ellipse cx="112.8" cy="426.0" rx="6.18" ry="4.09" fill="#fff" filter="url(#g1)"/>
<ellipse cx="160.4" cy="414.4" rx="10.2" ry="7.3" fill="#fff" opacity="0.15" filter="url(#g3)"/><ellipse cx="160.4" cy="414.4" rx="5.99" ry="4.28" fill="#fff" filter="url(#g1)"/>
<ellipse cx="160.2" cy="423.9" rx="12.4" ry="5.8" fill="#fff" opacity="0.15" filter="url(#g3)"/><ellipse cx="160.2" cy="423.9" rx="7.28" ry="3.42" fill="#fff" filter="url(#g1)"/>
<ellipse cx="205.3" cy="414.6" rx="11.8" ry="7.8" fill="#fff" opacity="0.15" filter="url(#g3)"/><ellipse cx="205.3" cy="414.6" rx="6.96" ry="4.60" fill="#fff" filter="url(#g1)"/>
<ellipse cx="205.0" cy="425.6" rx="11.6" ry="7.8" fill="#fff" opacity="0.15" filter="url(#g3)"/><ellipse cx="205.0" cy="425.6" rx="6.85" ry="4.60" fill="#fff" filter="url(#g1)"/>
<ellipse cx="250.4" cy="413.0" rx="11.3" ry="8.4" fill="#fff" opacity="0.2" filter="url(#g3)"/><ellipse cx="250.4" cy="413.0" rx="6.63" ry="4.92" fill="#fff" filter="url(#g1)"/>
<ellipse cx="250.6" cy="425.0" rx="12.7" ry="9.1" fill="#fff" opacity="0.2" filter="url(#g3)"/><ellipse cx="250.6" cy="425.0" rx="7.49" ry="5.35" fill="#fff" filter="url(#g1)"/>
<ellipse cx="18.2" cy="463" rx="6.4" ry="7.3" fill="#fff" opacity="0.15" filter="url(#g3)"/><ellipse cx="18.2" cy="463" rx="3.75" ry="4.28" fill="#fff" filter="url(#g1)"/>
<ellipse cx="26.5" cy="463.5" rx="6.4" ry="7.3" fill="#fff" opacity="0.15" filter="url(#g3)"/><ellipse cx="26.5" cy="463.5" rx="3.75" ry="4.28" fill="#fff" filter="url(#g1)"/>
<ellipse cx="18" cy="472.5" rx="6.4" ry="7.3" fill="#fff" opacity="0.15" filter="url(#g3)"/><ellipse cx="18" cy="472.5" rx="3.75" ry="4.28" fill="#fff" filter="url(#g1)"/>
<ellipse cx="26.2" cy="473" rx="6.4" ry="7.3" fill="#fff" opacity="0.15" filter="url(#g3)"/><ellipse cx="26.2" cy="473" rx="3.75" ry="4.28" fill="#fff" filter="url(#g1)"/>
<ellipse cx="61.4" cy="460.5" rx="8.9" ry="10.2" fill="#fff" opacity="0.4" filter="url(#g3)"/><ellipse cx="61.4" cy="460.5" rx="5.24" ry="5.99" fill="#fff" filter="url(#g1)"/>
<ellipse cx="74.2" cy="460.5" rx="8.9" ry="10.2" fill="#fff" opacity="0.4" filter="url(#g3)"/><ellipse cx="74.2" cy="460.5" rx="5.24" ry="5.99" fill="#fff" filter="url(#g1)"/>
<ellipse cx="61.2" cy="474.2" rx="8.9" ry="8.4" fill="#fff" opacity="0.4" filter="url(#g3)"/><ellipse cx="61.2" cy="474.2" rx="5.24" ry="4.92" fill="#fff" filter="url(#g1)"/>
<ellipse cx="73.7" cy="474.2" rx="8.9" ry="8.4" fill="#fff" opacity="0.4" filter="url(#g3)"/><ellipse cx="73.7" cy="474.2" rx="5.24" ry="4.92" fill="#fff" filter="url(#g1)"/>
<ellipse cx="106.3" cy="460.3" rx="9.3" ry="10.7" fill="#fff" opacity="0.4" filter="url(#g3)"/><ellipse cx="106.3" cy="460.3" rx="5.46" ry="6.31" fill="#fff" filter="url(#g1)"/>
<ellipse cx="119.7" cy="460.5" rx="9.3" ry="10.7" fill="#fff" opacity="0.4" filter="url(#g3)"/><ellipse cx="119.7" cy="460.5" rx="5.46" ry="6.31" fill="#fff" filter="url(#g1)"/>
<ellipse cx="105.8" cy="474.7" rx="9.3" ry="8.4" fill="#fff" opacity="0.4" filter="url(#g3)"/><ellipse cx="105.8" cy="474.7" rx="5.46" ry="4.92" fill="#fff" filter="url(#g1)"/>
<ellipse cx="119.0" cy="474.7" rx="9.3" ry="8.4" fill="#fff" opacity="0.4" filter="url(#g3)"/><ellipse cx="119.0" cy="474.7" rx="5.46" ry="4.92" fill="#fff" filter="url(#g1)"/>
<ellipse cx="154.6" cy="462.3" rx="8.0" ry="7.8" fill="#fff" opacity="0.15" filter="url(#g3)"/><ellipse cx="154.6" cy="462.3" rx="4.71" ry="4.60" fill="#fff" filter="url(#g1)"/>
<ellipse cx="164.2" cy="462.3" rx="8.0" ry="7.8" fill="#fff" opacity="0.15" filter="url(#g3)"/><ellipse cx="164.2" cy="462.3" rx="4.71" ry="4.60" fill="#fff" filter="url(#g1)"/>
<ellipse cx="154.1" cy="473.2" rx="8.0" ry="7.8" fill="#fff" opacity="0.15" filter="url(#g3)"/><ellipse cx="154.1" cy="473.2" rx="4.71" ry="4.60" fill="#fff" filter="url(#g1)"/>
<ellipse cx="164.2" cy="473.2" rx="8.0" ry="7.8" fill="#fff" opacity="0.15" filter="url(#g3)"/><ellipse cx="164.2" cy="473.2" rx="4.71" ry="4.60" fill="#fff" filter="url(#g1)"/>
<ellipse cx="200.5" cy="462.3" rx="8.7" ry="8.0" fill="#fff" opacity="0.15" filter="url(#g3)"/><ellipse cx="200.5" cy="462.3" rx="5.14" ry="4.71" fill="#fff" filter="url(#g1)"/>
<ellipse cx="211.0" cy="462.3" rx="8.7" ry="8.0" fill="#fff" opacity="0.15" filter="url(#g3)"/><ellipse cx="211.0" cy="462.3" rx="5.14" ry="4.71" fill="#fff" filter="url(#g1)"/>
<ellipse cx="200.2" cy="473.4" rx="8.7" ry="8.0" fill="#fff" opacity="0.15" filter="url(#g3)"/><ellipse cx="200.2" cy="473.4" rx="5.14" ry="4.71" fill="#fff" filter="url(#g1)"/>
<ellipse cx="210.6" cy="473.8" rx="8.7" ry="8.0" fill="#fff" opacity="0.15" filter="url(#g3)"/><ellipse cx="210.6" cy="473.8" rx="5.14" ry="4.71" fill="#fff" filter="url(#g1)"/>
<ellipse cx="245.2" cy="461.2" rx="9.8" ry="9.8" fill="#fff" opacity="0.2" filter="url(#g3)"/><ellipse cx="245.2" cy="461.2" rx="5.78" ry="5.78" fill="#fff" filter="url(#g1)"/>
<ellipse cx="257.1" cy="461.2" rx="9.8" ry="9.8" fill="#fff" opacity="0.2" filter="url(#g3)"/><ellipse cx="257.1" cy="461.2" rx="5.78" ry="5.78" fill="#fff" filter="url(#g1)"/>
<ellipse cx="245.2" cy="473.9" rx="9.8" ry="9.8" fill="#fff" opacity="0.2" filter="url(#g3)"/><ellipse cx="245.2" cy="473.9" rx="5.78" ry="5.78" fill="#fff" filter="url(#g1)"/>
<ellipse cx="256.8" cy="473.5" rx="9.8" ry="9.8" fill="#fff" opacity="0.2" filter="url(#g3)"/><ellipse cx="256.8" cy="473.5" rx="5.78" ry="5.78" fill="#fff" filter="url(#g1)"/>
<line x1="317.5" y1="48.8" x2="673.0" y2="48.8" stroke="#e2e2e2" stroke-width="1.3"/>
<line x1="317.5" y1="74.8" x2="673.0" y2="74.8" stroke="#e2e2e2" stroke-width="1.3"/>
<line x1="317.5" y1="100.8" x2="673.0" y2="100.8" stroke="#e2e2e2" stroke-width="1.3"/>
<line x1="317.5" y1="126.8" x2="673.0" y2="126.8" stroke="#e2e2e2" stroke-width="1.3"/>
<line x1="317.5" y1="152.8" x2="673.0" y2="152.8" stroke="#e2e2e2" stroke-width="1.3"/>
<line x1="403.0" y1="22.9" x2="403.0" y2="178.7" stroke="#000" stroke-width="1.8" stroke-dasharray="4.4 2.99" stroke-dashoffset="3.19"/>
<line x1="488.6" y1="22.9" x2="488.6" y2="178.7" stroke="#000" stroke-width="1.8" stroke-dasharray="4.4 2.99" stroke-dashoffset="3.19"/>
<line x1="548.8" y1="22.9" x2="548.8" y2="178.7" stroke="#000" stroke-width="1.8" stroke-dasharray="4.4 2.99" stroke-dashoffset="3.19"/>
<line x1="578.8" y1="22.9" x2="578.8" y2="178.7" stroke="#000" stroke-width="1.8" stroke-dasharray="4.4 2.99" stroke-dashoffset="3.19"/>
<line x1="630.0" y1="22.9" x2="630.0" y2="178.7" stroke="#000" stroke-width="1.8" stroke-dasharray="4.4 2.99" stroke-dashoffset="3.19"/>
<polyline points="325.8,78.1 334.6,92.8 343.1,87.1 351.7,108.7 360.0,100.6 368.8,120.4 377.3,124.3 385.9,124.8 394.0,113.8 402.9,142.6 411.5,165.6 420.3,130.4 428.9,149.5 437.2,108.7 445.7,127.2 454.3,133.8 462.8,143.4 471.4,106.2 480.0,143.1 488.5,136.5 497.2,122.6 505.8,126.3 514.3,118.2 522.9,121.7 548.6,112.6 557.1,93.5 565.7,98.2 574.2,88.9 582.8,85.0 591.4,88.2 599.9,88.9 608.5,95.0 617.1,86.5 625.6,79.6 634.2,83.8 642.7,64.2 651.3,65.9 659.8,62.3 668.6,47.8" fill="none" stroke="#0c168f" stroke-width="1.1"/>
<circle cx="325.8" cy="78.1" r="2.9" fill="#0a1490"/>
<circle cx="334.6" cy="92.8" r="2.9" fill="#0a1490"/>
<circle cx="343.1" cy="87.1" r="2.9" fill="#0a1490"/>
<circle cx="351.7" cy="108.7" r="2.9" fill="#0a1490"/>
<circle cx="360.0" cy="100.6" r="2.9" fill="#0a1490"/>
<circle cx="368.8" cy="120.4" r="2.9" fill="#0a1490"/>
<circle cx="377.3" cy="124.3" r="2.9" fill="#0a1490"/>
<circle cx="385.9" cy="124.8" r="2.9" fill="#0a1490"/>
<circle cx="394.0" cy="113.8" r="2.9" fill="#0a1490"/>
<circle cx="402.9" cy="142.6" r="2.9" fill="#0a1490"/>
<circle cx="411.5" cy="165.6" r="2.9" fill="#0a1490"/>
<circle cx="420.3" cy="130.4" r="2.9" fill="#0a1490"/>
<circle cx="428.9" cy="149.5" r="2.9" fill="#0a1490"/>
<circle cx="437.2" cy="108.7" r="2.9" fill="#0a1490"/>
<circle cx="445.7" cy="127.2" r="2.9" fill="#0a1490"/>
<circle cx="454.3" cy="133.8" r="2.9" fill="#0a1490"/>
<circle cx="462.8" cy="143.4" r="2.9" fill="#0a1490"/>
<circle cx="471.4" cy="106.2" r="2.9" fill="#0a1490"/>
<circle cx="480.0" cy="143.1" r="2.9" fill="#0a1490"/>
<circle cx="488.5" cy="136.5" r="2.9" fill="#0a1490"/>
<circle cx="497.2" cy="122.6" r="2.9" fill="#0a1490"/>
<circle cx="505.8" cy="126.3" r="2.9" fill="#0a1490"/>
<circle cx="514.3" cy="118.2" r="2.9" fill="#0a1490"/>
<circle cx="522.9" cy="121.7" r="2.9" fill="#0a1490"/>
<circle cx="548.6" cy="112.6" r="2.9" fill="#0a1490"/>
<circle cx="557.1" cy="93.5" r="2.9" fill="#0a1490"/>
<circle cx="565.7" cy="98.2" r="2.9" fill="#0a1490"/>
<circle cx="574.2" cy="88.9" r="2.9" fill="#0a1490"/>
<circle cx="582.8" cy="85.0" r="2.9" fill="#0a1490"/>
<circle cx="591.4" cy="88.2" r="2.9" fill="#0a1490"/>
<circle cx="599.9" cy="88.9" r="2.9" fill="#0a1490"/>
<circle cx="608.5" cy="95.0" r="2.9" fill="#0a1490"/>
<circle cx="617.1" cy="86.5" r="2.9" fill="#0a1490"/>
<circle cx="625.6" cy="79.6" r="2.9" fill="#0a1490"/>
<circle cx="634.2" cy="83.8" r="2.9" fill="#0a1490"/>
<circle cx="642.7" cy="64.2" r="2.9" fill="#0a1490"/>
<circle cx="651.3" cy="65.9" r="2.9" fill="#0a1490"/>
<circle cx="659.8" cy="62.3" r="2.9" fill="#0a1490"/>
<circle cx="668.6" cy="47.8" r="2.9" fill="#0a1490"/>
<path d="M317.5,16.9 V179.7 M673.0,16.9 V179.7 M316.5,22.9 H674.0 M316.5,178.7 H674.0" stroke="#000" stroke-width="2.0" fill="none"/>
<line x1="403.0" y1="16.9" x2="403.0" y2="22.9" stroke="#000" stroke-width="1.7"/>
<line x1="488.6" y1="16.9" x2="488.6" y2="22.9" stroke="#000" stroke-width="1.7"/>
<line x1="548.8" y1="16.9" x2="548.8" y2="22.9" stroke="#000" stroke-width="1.7"/>
<line x1="578.8" y1="16.9" x2="578.8" y2="22.9" stroke="#000" stroke-width="1.7"/>
<line x1="630.0" y1="16.9" x2="630.0" y2="22.9" stroke="#000" stroke-width="1.7"/>
<line x1="317.5" y1="22.9" x2="322.0" y2="22.9" stroke="#000" stroke-width="1.8"/>
<line x1="673.0" y1="22.9" x2="668.5" y2="22.9" stroke="#000" stroke-width="1.8"/>
<text transform="translate(312.2,26.299999999999997) scale(1.0,1.1)" font-size="9.9" text-anchor="end" font-weight="bold"  stroke="#000" stroke-width="0.18">-16</text>
<line x1="317.5" y1="48.8" x2="322.0" y2="48.8" stroke="#000" stroke-width="1.8"/>
<line x1="673.0" y1="48.8" x2="668.5" y2="48.8" stroke="#000" stroke-width="1.8"/>
<text transform="translate(312.2,52.199999999999996) scale(1.0,1.1)" font-size="9.9" text-anchor="end" font-weight="bold"  stroke="#000" stroke-width="0.18">-18</text>
<line x1="317.5" y1="74.8" x2="322.0" y2="74.8" stroke="#000" stroke-width="1.8"/>
<line x1="673.0" y1="74.8" x2="668.5" y2="74.8" stroke="#000" stroke-width="1.8"/>
<text transform="translate(312.2,78.2) scale(1.0,1.1)" font-size="9.9" text-anchor="end" font-weight="bold"  stroke="#000" stroke-width="0.18">-20</text>
<line x1="317.5" y1="100.8" x2="322.0" y2="100.8" stroke="#000" stroke-width="1.8"/>
<line x1="673.0" y1="100.8" x2="668.5" y2="100.8" stroke="#000" stroke-width="1.8"/>
<text transform="translate(312.2,104.2) scale(1.0,1.1)" font-size="9.9" text-anchor="end" font-weight="bold"  stroke="#000" stroke-width="0.18">-22</text>
<line x1="317.5" y1="126.8" x2="322.0" y2="126.8" stroke="#000" stroke-width="1.8"/>
<line x1="673.0" y1="126.8" x2="668.5" y2="126.8" stroke="#000" stroke-width="1.8"/>
<text transform="translate(312.2,130.2) scale(1.0,1.1)" font-size="9.9" text-anchor="end" font-weight="bold"  stroke="#000" stroke-width="0.18">-24</text>
<line x1="317.5" y1="152.8" x2="322.0" y2="152.8" stroke="#000" stroke-width="1.8"/>
<line x1="673.0" y1="152.8" x2="668.5" y2="152.8" stroke="#000" stroke-width="1.8"/>
<text transform="translate(312.2,156.20000000000002) scale(1.0,1.1)" font-size="9.9" text-anchor="end" font-weight="bold"  stroke="#000" stroke-width="0.18">-26</text>
<line x1="317.5" y1="178.7" x2="322.0" y2="178.7" stroke="#000" stroke-width="1.8"/>
<line x1="673.0" y1="178.7" x2="668.5" y2="178.7" stroke="#000" stroke-width="1.8"/>
<text transform="translate(312.2,182.1) scale(1.0,1.1)" font-size="9.9" text-anchor="end" font-weight="bold"  stroke="#000" stroke-width="0.18">-28</text>
<text transform="translate(361.9,20.8) scale(1.0,1.15)" font-size="10.2" text-anchor="middle" font-weight="bold"  stroke="#000" stroke-width="0.18">O</text>
<text transform="translate(445.9,20.8) scale(1.0,1.15)" font-size="10.2" text-anchor="middle" font-weight="bold"  stroke="#000" stroke-width="0.18">E</text>
<text transform="translate(517.3,20.8) scale(1.0,1.15)" font-size="10.2" text-anchor="middle" font-weight="bold"  stroke="#000" stroke-width="0.18">S</text>
<text transform="translate(561.0,20.8) scale(1.0,1.15)" font-size="10.2" text-anchor="middle" font-weight="bold"  stroke="#000" stroke-width="0.18">C</text>
<text transform="translate(601.9,20.8) scale(1.0,1.15)" font-size="10.2" text-anchor="middle" font-weight="bold"  stroke="#000" stroke-width="0.18">L</text>
<text transform="translate(650.6,20.8) scale(1.0,1.15)" font-size="10.2" text-anchor="middle" font-weight="bold"  stroke="#000" stroke-width="0.18">U</text>
<text transform="translate(317.8,191.6) scale(1.0,1.12)" font-size="9.8" text-anchor="middle" font-weight="bold"  stroke="#000" stroke-width="0.18">1260</text>
<text transform="translate(403.3,191.6) scale(1.0,1.12)" font-size="9.8" text-anchor="middle" font-weight="bold"  stroke="#000" stroke-width="0.18">1360</text>
<text transform="translate(488.90000000000003,191.6) scale(1.0,1.12)" font-size="9.8" text-anchor="middle" font-weight="bold"  stroke="#000" stroke-width="0.18">1460</text>
<text transform="translate(549.0999999999999,191.6) scale(1.0,1.12)" font-size="9.8" text-anchor="middle" font-weight="bold"  stroke="#000" stroke-width="0.18">1530</text>
<text transform="translate(579.0999999999999,191.6) scale(1.0,1.12)" font-size="9.8" text-anchor="middle" font-weight="bold"  stroke="#000" stroke-width="0.18">1565</text>
<text transform="translate(630.3,191.6) scale(1.0,1.12)" font-size="9.8" text-anchor="middle" font-weight="bold"  stroke="#000" stroke-width="0.18">1625</text>
<text transform="translate(673.3,191.6) scale(1.0,1.12)" font-size="9.8" text-anchor="middle" font-weight="bold"  stroke="#000" stroke-width="0.18">1675</text>
<text x="495.2" y="206.8" font-size="10.9" text-anchor="middle" font-weight="bold"  stroke="#000" stroke-width="0.18">Wavelength (nm)</text>
<text transform="translate(295.2,101) rotate(-90)" font-size="10.9" text-anchor="middle" font-weight="bold">Crosstalk_max (dB)</text>
<text x="290.5" y="8.2" font-size="14" text-anchor="middle" font-weight="bold"  stroke="#000" stroke-width="0.18">c</text>
<line x1="317.5" y1="257.5" x2="673.3" y2="257.5" stroke="#c4c4c4" stroke-width="1.1"/>
<line x1="317.5" y1="277.5" x2="673.3" y2="277.5" stroke="#c4c4c4" stroke-width="1.1"/>
<line x1="317.5" y1="297.6" x2="673.3" y2="297.6" stroke="#c4c4c4" stroke-width="1.1"/>
<line x1="317.5" y1="317.6" x2="673.3" y2="317.6" stroke="#c4c4c4" stroke-width="1.1"/>
<line x1="317.5" y1="337.7" x2="673.3" y2="337.7" stroke="#c4c4c4" stroke-width="1.1"/>
<line x1="317.5" y1="366.0" x2="673.3" y2="366.0" stroke="#d6d6d6" stroke-width="1.3"/>
<line x1="317.5" y1="387.0" x2="673.3" y2="387.0" stroke="#d6d6d6" stroke-width="1.3"/>
<line x1="317.5" y1="408.0" x2="673.3" y2="408.0" stroke="#d6d6d6" stroke-width="1.3"/>
<line x1="317.5" y1="429.0" x2="673.3" y2="429.0" stroke="#d6d6d6" stroke-width="1.3"/>
<line x1="317.5" y1="449.8" x2="673.3" y2="449.8" stroke="#d6d6d6" stroke-width="1.3"/>
<line x1="403.0" y1="242.4" x2="403.0" y2="352.7" stroke="#000" stroke-width="1.9" stroke-dasharray="4.4 3.5" stroke-dashoffset="4.4"/>
<line x1="403.0" y1="352.7" x2="403.0" y2="462.5" stroke="#000" stroke-width="1.9" stroke-dasharray="4.4 3.5" stroke-dashoffset="6.7"/>
<line x1="488.6" y1="242.4" x2="488.6" y2="352.7" stroke="#000" stroke-width="1.9" stroke-dasharray="4.4 3.5" stroke-dashoffset="4.4"/>
<line x1="488.6" y1="352.7" x2="488.6" y2="462.5" stroke="#000" stroke-width="1.9" stroke-dasharray="4.4 3.5" stroke-dashoffset="6.7"/>
<line x1="548.8" y1="242.4" x2="548.8" y2="352.7" stroke="#000" stroke-width="1.9" stroke-dasharray="4.4 3.5" stroke-dashoffset="4.4"/>
<line x1="548.8" y1="352.7" x2="548.8" y2="462.5" stroke="#000" stroke-width="1.9" stroke-dasharray="4.4 3.5" stroke-dashoffset="6.7"/>
<line x1="578.8" y1="242.4" x2="578.8" y2="352.7" stroke="#000" stroke-width="1.9" stroke-dasharray="4.4 3.5" stroke-dashoffset="4.4"/>
<line x1="578.8" y1="352.7" x2="578.8" y2="462.5" stroke="#000" stroke-width="1.9" stroke-dasharray="4.4 3.5" stroke-dashoffset="6.7"/>
<line x1="630.0" y1="242.4" x2="630.0" y2="352.7" stroke="#000" stroke-width="1.9" stroke-dasharray="4.4 3.5" stroke-dashoffset="4.4"/>
<line x1="630.0" y1="352.7" x2="630.0" y2="462.5" stroke="#000" stroke-width="1.9" stroke-dasharray="4.4 3.5" stroke-dashoffset="6.7"/>
<rect x="455.3" y="250.1" width="80.3" height="14.9" fill="#fff" stroke="#a0a0a0" stroke-width="0.8"/>
<text transform="translate(495.5,261.3) scale(1.0,1.05)" font-size="10.0" text-anchor="middle" font-weight="bold"  stroke="#000" stroke-width="0.18">Four-mode fiber</text>
<rect x="453.6" y="359.7" width="77.2" height="15" fill="#fff" stroke="#a0a0a0" stroke-width="0.8"/>
<text transform="translate(492.1,371.0) scale(1.0,1.05)" font-size="10.0" text-anchor="middle" font-weight="bold"  stroke="#000" stroke-width="0.18">Six-mode fiber</text>
<polyline points="321,279.2 325.3,282 333.8,283.3 342.5,285.6 351.2,288.3 359.8,294 368.5,291.4 377,303.6 385.5,306 393.9,306.1 398.3,288.8 402.7,296.7 411.1,291.8 419.9,299.2 428.5,299.5 437.2,300 445.5,301.3 454.3,308.3 462.9,314.5 471.5,317 480.2,313.8 488.6,314.4 497.5,318.4 505.8,319.5 514.4,315.3 523,321.8 527.7,320.1 549,318.7 557.8,326.1 566.4,324.7 574.9,321.8 579.2,324.7 583.2,322.5 591.9,328.3 600.6,328.3 609.2,328 616.3,325.6 626.3,286.7 635,288.5 643.5,287.3 652.4,290.6 660.9,286.3 669.9,275.9" fill="none" stroke="#b7850f" stroke-width="1.2"/>
<circle cx="321" cy="279.2" r="2.6" fill="#b7850f"/>
<circle cx="325.3" cy="282" r="2.6" fill="#b7850f"/>
<circle cx="333.8" cy="283.3" r="2.6" fill="#b7850f"/>
<circle cx="342.5" cy="285.6" r="2.6" fill="#b7850f"/>
<circle cx="351.2" cy="288.3" r="2.6" fill="#b7850f"/>
<circle cx="359.8" cy="294" r="2.6" fill="#b7850f"/>
<circle cx="368.5" cy="291.4" r="2.6" fill="#b7850f"/>
<circle cx="377" cy="303.6" r="2.6" fill="#b7850f"/>
<circle cx="385.5" cy="306" r="2.6" fill="#b7850f"/>
<circle cx="393.9" cy="306.1" r="2.6" fill="#b7850f"/>
<circle cx="398.3" cy="288.8" r="2.6" fill="#b7850f"/>
<circle cx="402.7" cy="296.7" r="2.6" fill="#b7850f"/>
<circle cx="411.1" cy="291.8" r="2.6" fill="#b7850f"/>
<circle cx="419.9" cy="299.2" r="2.6" fill="#b7850f"/>
<circle cx="428.5" cy="299.5" r="2.6" fill="#b7850f"/>
<circle cx="437.2" cy="300" r="2.6" fill="#b7850f"/>
<circle cx="445.5" cy="301.3" r="2.6" fill="#b7850f"/>
<circle cx="454.3" cy="308.3" r="2.6" fill="#b7850f"/>
<circle cx="462.9" cy="314.5" r="2.6" fill="#b7850f"/>
<circle cx="471.5" cy="317" r="2.6" fill="#b7850f"/>
<circle cx="480.2" cy="313.8" r="2.6" fill="#b7850f"/>
<circle cx="488.6" cy="314.4" r="2.6" fill="#b7850f"/>
<circle cx="497.5" cy="318.4" r="2.6" fill="#b7850f"/>
<circle cx="505.8" cy="319.5" r="2.6" fill="#b7850f"/>
<circle cx="514.4" cy="315.3" r="2.6" fill="#b7850f"/>
<circle cx="523" cy="321.8" r="2.6" fill="#b7850f"/>
<circle cx="527.7" cy="320.1" r="2.6" fill="#b7850f"/>
<circle cx="549" cy="318.7" r="2.6" fill="#b7850f"/>
<circle cx="557.8" cy="326.1" r="2.6" fill="#b7850f"/>
<circle cx="566.4" cy="324.7" r="2.6" fill="#b7850f"/>
<circle cx="574.9" cy="321.8" r="2.6" fill="#b7850f"/>
<circle cx="579.2" cy="324.7" r="2.6" fill="#b7850f"/>
<circle cx="583.2" cy="322.5" r="2.6" fill="#b7850f"/>
<circle cx="591.9" cy="328.3" r="2.6" fill="#b7850f"/>
<circle cx="600.6" cy="328.3" r="2.6" fill="#b7850f"/>
<circle cx="609.2" cy="328" r="2.6" fill="#b7850f"/>
<circle cx="616.3" cy="325.6" r="2.6" fill="#b7850f"/>
<circle cx="626.3" cy="286.7" r="2.6" fill="#b7850f"/>
<circle cx="635" cy="288.5" r="2.6" fill="#b7850f"/>
<circle cx="643.5" cy="287.3" r="2.6" fill="#b7850f"/>
<circle cx="652.4" cy="290.6" r="2.6" fill="#b7850f"/>
<circle cx="660.9" cy="286.3" r="2.6" fill="#b7850f"/>
<circle cx="669.9" cy="275.9" r="2.6" fill="#b7850f"/>
<polyline points="321,274.6 325.3,279.2 333.8,277.2 342.5,279.3 351.2,285.6 359.8,293.8 368.5,286.3 377,296.3 385.5,302.5 393.9,302.5 398.3,282.1 402.7,292.4 411.1,286.3 419.9,297.3 428.5,300.4 437.2,299.2 445.5,303.5 454.3,291.5 462.9,311.4 471.5,301 480.2,302.6 488.6,306.3 497.5,298.1 505.8,298.1 514.4,306.6 523,307.3 527.7,308.3 549,294 557.8,295.5 566.4,298.3 574.9,296.9 579.2,299.3 583.2,301.6 591.9,299.2 600.6,300.1 609.2,295.9 616.3,299 626.3,275.3 635,276.2 643.5,270.7 652.4,273.5 660.9,267.8 669.9,256.4" fill="none" stroke="#7a0f98" stroke-width="1.2"/>
<rect x="318.5" y="272.1" width="5.0" height="5.0" fill="#7a0f98"/>
<rect x="322.8" y="276.7" width="5.0" height="5.0" fill="#7a0f98"/>
<rect x="331.3" y="274.7" width="5.0" height="5.0" fill="#7a0f98"/>
<rect x="340.0" y="276.8" width="5.0" height="5.0" fill="#7a0f98"/>
<rect x="348.7" y="283.1" width="5.0" height="5.0" fill="#7a0f98"/>
<rect x="357.3" y="291.3" width="5.0" height="5.0" fill="#7a0f98"/>
<rect x="366.0" y="283.8" width="5.0" height="5.0" fill="#7a0f98"/>
<rect x="374.5" y="293.8" width="5.0" height="5.0" fill="#7a0f98"/>
<rect x="383.0" y="300.0" width="5.0" height="5.0" fill="#7a0f98"/>
<rect x="391.4" y="300.0" width="5.0" height="5.0" fill="#7a0f98"/>
<rect x="395.8" y="279.6" width="5.0" height="5.0" fill="#7a0f98"/>
<rect x="400.2" y="289.9" width="5.0" height="5.0" fill="#7a0f98"/>
<rect x="408.6" y="283.8" width="5.0" height="5.0" fill="#7a0f98"/>
<rect x="417.4" y="294.8" width="5.0" height="5.0" fill="#7a0f98"/>
<rect x="426.0" y="297.9" width="5.0" height="5.0" fill="#7a0f98"/>
<rect x="434.7" y="296.7" width="5.0" height="5.0" fill="#7a0f98"/>
<rect x="443.0" y="301.0" width="5.0" height="5.0" fill="#7a0f98"/>
<rect x="451.8" y="289.0" width="5.0" height="5.0" fill="#7a0f98"/>
<rect x="460.4" y="308.9" width="5.0" height="5.0" fill="#7a0f98"/>
<rect x="469.0" y="298.5" width="5.0" height="5.0" fill="#7a0f98"/>
<rect x="477.7" y="300.1" width="5.0" height="5.0" fill="#7a0f98"/>
<rect x="486.1" y="303.8" width="5.0" height="5.0" fill="#7a0f98"/>
<rect x="495.0" y="295.6" width="5.0" height="5.0" fill="#7a0f98"/>
<rect x="503.3" y="295.6" width="5.0" height="5.0" fill="#7a0f98"/>
<rect x="511.9" y="304.1" width="5.0" height="5.0" fill="#7a0f98"/>
<rect x="520.5" y="304.8" width="5.0" height="5.0" fill="#7a0f98"/>
<rect x="525.2" y="305.8" width="5.0" height="5.0" fill="#7a0f98"/>
<rect x="546.5" y="291.5" width="5.0" height="5.0" fill="#7a0f98"/>
<rect x="555.3" y="293.0" width="5.0" height="5.0" fill="#7a0f98"/>
<rect x="563.9" y="295.8" width="5.0" height="5.0" fill="#7a0f98"/>
<rect x="572.4" y="294.4" width="5.0" height="5.0" fill="#7a0f98"/>
<rect x="576.7" y="296.8" width="5.0" height="5.0" fill="#7a0f98"/>
<rect x="580.7" y="299.1" width="5.0" height="5.0" fill="#7a0f98"/>
<rect x="589.4" y="296.7" width="5.0" height="5.0" fill="#7a0f98"/>
<rect x="598.1" y="297.6" width="5.0" height="5.0" fill="#7a0f98"/>
<rect x="606.7" y="293.4" width="5.0" height="5.0" fill="#7a0f98"/>
<rect x="613.8" y="296.5" width="5.0" height="5.0" fill="#7a0f98"/>
<rect x="623.8" y="272.8" width="5.0" height="5.0" fill="#7a0f98"/>
<rect x="632.5" y="273.7" width="5.0" height="5.0" fill="#7a0f98"/>
<rect x="641.0" y="268.2" width="5.0" height="5.0" fill="#7a0f98"/>
<rect x="649.9" y="271.0" width="5.0" height="5.0" fill="#7a0f98"/>
<rect x="658.4" y="265.3" width="5.0" height="5.0" fill="#7a0f98"/>
<rect x="667.4" y="253.9" width="5.0" height="5.0" fill="#7a0f98"/>
<polyline points="321,281.5 325.3,286.8 333.8,288.7 342.5,289 351.2,292 359.8,298.1 368.5,296.3 377,305.5 385.5,309.7 393.9,309 398.3,288.2 402.7,301 411.1,295.1 419.9,300 428.5,313.2 437.2,304.1 445.5,309.6 454.3,310.8 462.9,313.2 471.5,318.1 480.2,316.6 488.6,313 497.5,320.3 505.8,322.2 514.4,312.5 523,316.8 527.7,318.3 549,321.1 557.8,326.1 566.4,319.7 574.9,321.8 579.2,324.7 583.2,311.9 591.9,308.6 600.6,319.2 609.2,317.3 616.3,324.5 626.3,301 635,300.1 643.5,299.1 652.4,307.7 660.9,299.9 669.9,286.8" fill="none" stroke="#008b8b" stroke-width="1.2"/>
<path d="M317.4,279.0 H324.6 L321.0,285.2Z" fill="#008b8b"/>
<path d="M321.7,284.3 H328.9 L325.3,290.5Z" fill="#008b8b"/>
<path d="M330.2,286.2 H337.4 L333.8,292.4Z" fill="#008b8b"/>
<path d="M338.9,286.5 H346.1 L342.5,292.7Z" fill="#008b8b"/>
<path d="M347.6,289.5 H354.8 L351.2,295.7Z" fill="#008b8b"/>
<path d="M356.2,295.6 H363.4 L359.8,301.8Z" fill="#008b8b"/>
<path d="M364.9,293.8 H372.1 L368.5,300.0Z" fill="#008b8b"/>
<path d="M373.4,303.0 H380.6 L377.0,309.2Z" fill="#008b8b"/>
<path d="M381.9,307.2 H389.1 L385.5,313.4Z" fill="#008b8b"/>
<path d="M390.3,306.5 H397.5 L393.9,312.7Z" fill="#008b8b"/>
<path d="M394.7,285.7 H401.9 L398.3,291.9Z" fill="#008b8b"/>
<path d="M399.1,298.5 H406.3 L402.7,304.7Z" fill="#008b8b"/>
<path d="M407.5,292.6 H414.7 L411.1,298.8Z" fill="#008b8b"/>
<path d="M416.3,297.5 H423.5 L419.9,303.7Z" fill="#008b8b"/>
<path d="M424.9,310.7 H432.1 L428.5,316.9Z" fill="#008b8b"/>
<path d="M433.6,301.6 H440.8 L437.2,307.8Z" fill="#008b8b"/>
<path d="M441.9,307.1 H449.1 L445.5,313.3Z" fill="#008b8b"/>
<path d="M450.7,308.3 H457.9 L454.3,314.5Z" fill="#008b8b"/>
<path d="M459.3,310.7 H466.5 L462.9,316.9Z" fill="#008b8b"/>
<path d="M467.9,315.6 H475.1 L471.5,321.8Z" fill="#008b8b"/>
<path d="M476.6,314.1 H483.8 L480.2,320.3Z" fill="#008b8b"/>
<path d="M485.0,310.5 H492.2 L488.6,316.7Z" fill="#008b8b"/>
<path d="M493.9,317.8 H501.1 L497.5,324.0Z" fill="#008b8b"/>
<path d="M502.2,319.7 H509.4 L505.8,325.9Z" fill="#008b8b"/>
<path d="M510.8,310.0 H518.0 L514.4,316.2Z" fill="#008b8b"/>
<path d="M519.4,314.3 H526.6 L523.0,320.5Z" fill="#008b8b"/>
<path d="M524.1,315.8 H531.3 L527.7,322.0Z" fill="#008b8b"/>
<path d="M545.4,318.6 H552.6 L549.0,324.8Z" fill="#008b8b"/>
<path d="M554.2,323.6 H561.4 L557.8,329.8Z" fill="#008b8b"/>
<path d="M562.8,317.2 H570.0 L566.4,323.4Z" fill="#008b8b"/>
<path d="M571.3,319.3 H578.5 L574.9,325.5Z" fill="#008b8b"/>
<path d="M575.6,322.2 H582.8 L579.2,328.4Z" fill="#008b8b"/>
<path d="M579.6,309.4 H586.8 L583.2,315.6Z" fill="#008b8b"/>
<path d="M588.3,306.1 H595.5 L591.9,312.3Z" fill="#008b8b"/>
<path d="M597.0,316.7 H604.2 L600.6,322.9Z" fill="#008b8b"/>
<path d="M605.6,314.8 H612.8 L609.2,321.0Z" fill="#008b8b"/>
<path d="M612.7,322.0 H619.9 L616.3,328.2Z" fill="#008b8b"/>
<path d="M622.7,298.5 H629.9 L626.3,304.7Z" fill="#008b8b"/>
<path d="M631.4,297.6 H638.6 L635.0,303.8Z" fill="#008b8b"/>
<path d="M639.9,296.6 H647.1 L643.5,302.8Z" fill="#008b8b"/>
<path d="M648.8,305.2 H656.0 L652.4,311.4Z" fill="#008b8b"/>
<path d="M657.3,297.4 H664.5 L660.9,303.6Z" fill="#008b8b"/>
<path d="M666.3,284.3 H673.5 L669.9,290.5Z" fill="#008b8b"/>
<polyline points="321,296.7 325.3,299.4 333.8,297.6 342.5,299.4 351.2,304.8 359.8,310.3 368.5,303 377,314.6 385.5,320.3 393.9,315.7 398.3,289.8 402.7,298.6 411.1,287.3 419.9,302.8 428.5,294.1 437.2,298.3 445.5,293.1 454.3,293.1 462.9,296.4 471.5,310.8 480.2,307.8 488.6,289 497.5,287.7 505.8,290.1 514.4,286.5 523,282.7 527.7,277 549,290 557.8,280.5 566.4,288.4 574.9,278 579.2,280.2 583.2,272.3 591.9,275.6 600.6,267.5 609.2,277.1 616.3,281 626.3,269.7 635,268.8 643.5,263.5 652.4,272.1 660.9,265 669.9,267.1" fill="none" stroke="#0a6fbf" stroke-width="1.2"/>
<path d="M321.0,292.8 L324.9,296.7 L321.0,300.6 L317.1,296.7Z" fill="#0a6fbf"/>
<path d="M325.3,295.5 L329.2,299.4 L325.3,303.3 L321.4,299.4Z" fill="#0a6fbf"/>
<path d="M333.8,293.7 L337.7,297.6 L333.8,301.5 L329.9,297.6Z" fill="#0a6fbf"/>
<path d="M342.5,295.5 L346.4,299.4 L342.5,303.3 L338.6,299.4Z" fill="#0a6fbf"/>
<path d="M351.2,300.9 L355.1,304.8 L351.2,308.7 L347.3,304.8Z" fill="#0a6fbf"/>
<path d="M359.8,306.4 L363.7,310.3 L359.8,314.2 L355.9,310.3Z" fill="#0a6fbf"/>
<path d="M368.5,299.1 L372.4,303.0 L368.5,306.9 L364.6,303.0Z" fill="#0a6fbf"/>
<path d="M377.0,310.7 L380.9,314.6 L377.0,318.5 L373.1,314.6Z" fill="#0a6fbf"/>
<path d="M385.5,316.4 L389.4,320.3 L385.5,324.2 L381.6,320.3Z" fill="#0a6fbf"/>
<path d="M393.9,311.8 L397.8,315.7 L393.9,319.6 L390.0,315.7Z" fill="#0a6fbf"/>
<path d="M398.3,285.9 L402.2,289.8 L398.3,293.7 L394.4,289.8Z" fill="#0a6fbf"/>
<path d="M402.7,294.7 L406.6,298.6 L402.7,302.5 L398.8,298.6Z" fill="#0a6fbf"/>
<path d="M411.1,283.4 L415.0,287.3 L411.1,291.2 L407.2,287.3Z" fill="#0a6fbf"/>
<path d="M419.9,298.9 L423.8,302.8 L419.9,306.7 L416.0,302.8Z" fill="#0a6fbf"/>
<path d="M428.5,290.2 L432.4,294.1 L428.5,298.0 L424.6,294.1Z" fill="#0a6fbf"/>
<path d="M437.2,294.4 L441.1,298.3 L437.2,302.2 L433.3,298.3Z" fill="#0a6fbf"/>
<path d="M445.5,289.2 L449.4,293.1 L445.5,297.0 L441.6,293.1Z" fill="#0a6fbf"/>
<path d="M454.3,289.2 L458.2,293.1 L454.3,297.0 L450.4,293.1Z" fill="#0a6fbf"/>
<path d="M462.9,292.5 L466.8,296.4 L462.9,300.3 L459.0,296.4Z" fill="#0a6fbf"/>
<path d="M471.5,306.9 L475.4,310.8 L471.5,314.7 L467.6,310.8Z" fill="#0a6fbf"/>
<path d="M480.2,303.9 L484.1,307.8 L480.2,311.7 L476.3,307.8Z" fill="#0a6fbf"/>
<path d="M488.6,285.1 L492.5,289.0 L488.6,292.9 L484.7,289.0Z" fill="#0a6fbf"/>
<path d="M497.5,283.8 L501.4,287.7 L497.5,291.6 L493.6,287.7Z" fill="#0a6fbf"/>
<path d="M505.8,286.2 L509.7,290.1 L505.8,294.0 L501.9,290.1Z" fill="#0a6fbf"/>
<path d="M514.4,282.6 L518.3,286.5 L514.4,290.4 L510.5,286.5Z" fill="#0a6fbf"/>
<path d="M523.0,278.8 L526.9,282.7 L523.0,286.6 L519.1,282.7Z" fill="#0a6fbf"/>
<path d="M527.7,273.1 L531.6,277.0 L527.7,280.9 L523.8,277.0Z" fill="#0a6fbf"/>
<path d="M549.0,286.1 L552.9,290.0 L549.0,293.9 L545.1,290.0Z" fill="#0a6fbf"/>
<path d="M557.8,276.6 L561.7,280.5 L557.8,284.4 L553.9,280.5Z" fill="#0a6fbf"/>
<path d="M566.4,284.5 L570.3,288.4 L566.4,292.3 L562.5,288.4Z" fill="#0a6fbf"/>
<path d="M574.9,274.1 L578.8,278.0 L574.9,281.9 L571.0,278.0Z" fill="#0a6fbf"/>
<path d="M579.2,276.3 L583.1,280.2 L579.2,284.1 L575.3,280.2Z" fill="#0a6fbf"/>
<path d="M583.2,268.4 L587.1,272.3 L583.2,276.2 L579.3,272.3Z" fill="#0a6fbf"/>
<path d="M591.9,271.7 L595.8,275.6 L591.9,279.5 L588.0,275.6Z" fill="#0a6fbf"/>
<path d="M600.6,263.6 L604.5,267.5 L600.6,271.4 L596.7,267.5Z" fill="#0a6fbf"/>
<path d="M609.2,273.2 L613.1,277.1 L609.2,281.0 L605.3,277.1Z" fill="#0a6fbf"/>
<path d="M616.3,277.1 L620.2,281.0 L616.3,284.9 L612.4,281.0Z" fill="#0a6fbf"/>
<path d="M626.3,265.8 L630.2,269.7 L626.3,273.6 L622.4,269.7Z" fill="#0a6fbf"/>
<path d="M635.0,264.9 L638.9,268.8 L635.0,272.7 L631.1,268.8Z" fill="#0a6fbf"/>
<path d="M643.5,259.6 L647.4,263.5 L643.5,267.4 L639.6,263.5Z" fill="#0a6fbf"/>
<path d="M652.4,268.2 L656.3,272.1 L652.4,276.0 L648.5,272.1Z" fill="#0a6fbf"/>
<path d="M660.9,261.1 L664.8,265.0 L660.9,268.9 L657.0,265.0Z" fill="#0a6fbf"/>
<path d="M669.9,263.2 L673.8,267.1 L669.9,271.0 L666.0,267.1Z" fill="#0a6fbf"/>
<polyline points="320.7,386.4 325.3,387 333.5,389.9 342.4,390.6 351.3,395.3 359.8,389.6 368.1,394.9 376.7,402 385.2,407.7 393.7,407 398.3,402.7 402.7,406.5 411.1,397.3 419.7,406.3 428.2,407 437.2,409.1 445.7,414 454.2,417.7 462.8,422.3 471.3,423.4 480.2,427 488.4,425 497.4,425.2 506.2,426.6 514.8,430.3 523.3,430.9 527.6,431.1 549.2,437.7 557.8,440.1 566.3,439.9 574.7,435.9 579.2,440.6 583.2,441.3 592.1,443.8 600.6,439.9 609.1,438.9 616.4,439.7 626.5,397.6 635.1,399.3 643.5,404.4 652.4,406.6 660.9,401.3 669.4,397" fill="none" stroke="#b7850f" stroke-width="1.2"/>
<circle cx="320.7" cy="386.4" r="2.6" fill="#b7850f"/>
<circle cx="325.3" cy="387" r="2.6" fill="#b7850f"/>
<circle cx="333.5" cy="389.9" r="2.6" fill="#b7850f"/>
<circle cx="342.4" cy="390.6" r="2.6" fill="#b7850f"/>
<circle cx="351.3" cy="395.3" r="2.6" fill="#b7850f"/>
<circle cx="359.8" cy="389.6" r="2.6" fill="#b7850f"/>
<circle cx="368.1" cy="394.9" r="2.6" fill="#b7850f"/>
<circle cx="376.7" cy="402" r="2.6" fill="#b7850f"/>
<circle cx="385.2" cy="407.7" r="2.6" fill="#b7850f"/>
<circle cx="393.7" cy="407" r="2.6" fill="#b7850f"/>
<circle cx="398.3" cy="402.7" r="2.6" fill="#b7850f"/>
<circle cx="402.7" cy="406.5" r="2.6" fill="#b7850f"/>
<circle cx="411.1" cy="397.3" r="2.6" fill="#b7850f"/>
<circle cx="419.7" cy="406.3" r="2.6" fill="#b7850f"/>
<circle cx="428.2" cy="407" r="2.6" fill="#b7850f"/>
<circle cx="437.2" cy="409.1" r="2.6" fill="#b7850f"/>
<circle cx="445.7" cy="414" r="2.6" fill="#b7850f"/>
<circle cx="454.2" cy="417.7" r="2.6" fill="#b7850f"/>
<circle cx="462.8" cy="422.3" r="2.6" fill="#b7850f"/>
<circle cx="471.3" cy="423.4" r="2.6" fill="#b7850f"/>
<circle cx="480.2" cy="427" r="2.6" fill="#b7850f"/>
<circle cx="488.4" cy="425" r="2.6" fill="#b7850f"/>
<circle cx="497.4" cy="425.2" r="2.6" fill="#b7850f"/>
<circle cx="506.2" cy="426.6" r="2.6" fill="#b7850f"/>
<circle cx="514.8" cy="430.3" r="2.6" fill="#b7850f"/>
<circle cx="523.3" cy="430.9" r="2.6" fill="#b7850f"/>
<circle cx="527.6" cy="431.1" r="2.6" fill="#b7850f"/>
<circle cx="549.2" cy="437.7" r="2.6" fill="#b7850f"/>
<circle cx="557.8" cy="440.1" r="2.6" fill="#b7850f"/>
<circle cx="566.3" cy="439.9" r="2.6" fill="#b7850f"/>
<circle cx="574.7" cy="435.9" r="2.6" fill="#b7850f"/>
<circle cx="579.2" cy="440.6" r="2.6" fill="#b7850f"/>
<circle cx="583.2" cy="441.3" r="2.6" fill="#b7850f"/>
<circle cx="592.1" cy="443.8" r="2.6" fill="#b7850f"/>
<circle cx="600.6" cy="439.9" r="2.6" fill="#b7850f"/>
<circle cx="609.1" cy="438.9" r="2.6" fill="#b7850f"/>
<circle cx="616.4" cy="439.7" r="2.6" fill="#b7850f"/>
<circle cx="626.5" cy="397.6" r="2.6" fill="#b7850f"/>
<circle cx="635.1" cy="399.3" r="2.6" fill="#b7850f"/>
<circle cx="643.5" cy="404.4" r="2.6" fill="#b7850f"/>
<circle cx="652.4" cy="406.6" r="2.6" fill="#b7850f"/>
<circle cx="660.9" cy="401.3" r="2.6" fill="#b7850f"/>
<circle cx="669.4" cy="397" r="2.6" fill="#b7850f"/>
<polyline points="320.7,376.4 325.3,380 333.5,388.5 342.4,389.2 351.3,394.2 359.8,398.6 368.1,397.3 376.7,399.2 385.2,403.4 393.7,402.7 398.3,390.6 402.7,400.6 411.1,395.6 419.7,402.4 428.2,404.2 437.2,412 445.7,409.2 454.2,404.2 462.8,412.3 471.3,418.4 480.2,415.2 488.4,416.6 497.4,413.2 506.2,414.9 514.8,414.6 523.3,415.6 527.6,416.3 549.2,424.9 557.8,430.2 566.3,428.3 574.7,432.4 579.2,430.2 583.2,430.6 592.1,424.2 600.6,427.3 609.1,422.8 616.4,429.8 626.5,373.4 635.1,375.8 643.5,384.3 652.4,375.6 660.9,371.8 669.4,369.2" fill="none" stroke="#7a0f98" stroke-width="1.2"/>
<rect x="318.2" y="373.9" width="5.0" height="5.0" fill="#7a0f98"/>
<rect x="322.8" y="377.5" width="5.0" height="5.0" fill="#7a0f98"/>
<rect x="331.0" y="386.0" width="5.0" height="5.0" fill="#7a0f98"/>
<rect x="339.9" y="386.7" width="5.0" height="5.0" fill="#7a0f98"/>
<rect x="348.8" y="391.7" width="5.0" height="5.0" fill="#7a0f98"/>
<rect x="357.3" y="396.1" width="5.0" height="5.0" fill="#7a0f98"/>
<rect x="365.6" y="394.8" width="5.0" height="5.0" fill="#7a0f98"/>
<rect x="374.2" y="396.7" width="5.0" height="5.0" fill="#7a0f98"/>
<rect x="382.7" y="400.9" width="5.0" height="5.0" fill="#7a0f98"/>
<rect x="391.2" y="400.2" width="5.0" height="5.0" fill="#7a0f98"/>
<rect x="395.8" y="388.1" width="5.0" height="5.0" fill="#7a0f98"/>
<rect x="400.2" y="398.1" width="5.0" height="5.0" fill="#7a0f98"/>
<rect x="408.6" y="393.1" width="5.0" height="5.0" fill="#7a0f98"/>
<rect x="417.2" y="399.9" width="5.0" height="5.0" fill="#7a0f98"/>
<rect x="425.7" y="401.7" width="5.0" height="5.0" fill="#7a0f98"/>
<rect x="434.7" y="409.5" width="5.0" height="5.0" fill="#7a0f98"/>
<rect x="443.2" y="406.7" width="5.0" height="5.0" fill="#7a0f98"/>
<rect x="451.7" y="401.7" width="5.0" height="5.0" fill="#7a0f98"/>
<rect x="460.3" y="409.8" width="5.0" height="5.0" fill="#7a0f98"/>
<rect x="468.8" y="415.9" width="5.0" height="5.0" fill="#7a0f98"/>
<rect x="477.7" y="412.7" width="5.0" height="5.0" fill="#7a0f98"/>
<rect x="485.9" y="414.1" width="5.0" height="5.0" fill="#7a0f98"/>
<rect x="494.9" y="410.7" width="5.0" height="5.0" fill="#7a0f98"/>
<rect x="503.7" y="412.4" width="5.0" height="5.0" fill="#7a0f98"/>
<rect x="512.3" y="412.1" width="5.0" height="5.0" fill="#7a0f98"/>
<rect x="520.8" y="413.1" width="5.0" height="5.0" fill="#7a0f98"/>
<rect x="525.1" y="413.8" width="5.0" height="5.0" fill="#7a0f98"/>
<rect x="546.7" y="422.4" width="5.0" height="5.0" fill="#7a0f98"/>
<rect x="555.3" y="427.7" width="5.0" height="5.0" fill="#7a0f98"/>
<rect x="563.8" y="425.8" width="5.0" height="5.0" fill="#7a0f98"/>
<rect x="572.2" y="429.9" width="5.0" height="5.0" fill="#7a0f98"/>
<rect x="576.7" y="427.7" width="5.0" height="5.0" fill="#7a0f98"/>
<rect x="580.7" y="428.1" width="5.0" height="5.0" fill="#7a0f98"/>
<rect x="589.6" y="421.7" width="5.0" height="5.0" fill="#7a0f98"/>
<rect x="598.1" y="424.8" width="5.0" height="5.0" fill="#7a0f98"/>
<rect x="606.6" y="420.3" width="5.0" height="5.0" fill="#7a0f98"/>
<rect x="613.9" y="427.3" width="5.0" height="5.0" fill="#7a0f98"/>
<rect x="624.0" y="370.9" width="5.0" height="5.0" fill="#7a0f98"/>
<rect x="632.6" y="373.3" width="5.0" height="5.0" fill="#7a0f98"/>
<rect x="641.0" y="381.8" width="5.0" height="5.0" fill="#7a0f98"/>
<rect x="649.9" y="373.1" width="5.0" height="5.0" fill="#7a0f98"/>
<rect x="658.4" y="369.3" width="5.0" height="5.0" fill="#7a0f98"/>
<rect x="666.9" y="366.7" width="5.0" height="5.0" fill="#7a0f98"/>
<polyline points="320.7,373.1 325.3,374.5 333.5,378.8 342.4,374 351.3,381.1 359.8,380 368.1,382.1 376.7,385.6 385.2,393.5 393.7,392 398.3,377.6 402.7,393.7 411.1,389.2 419.7,396.3 428.2,396.3 437.2,404.2 445.7,402.2 454.2,398.5 462.8,404.2 471.3,407 480.2,405.1 488.4,410.6 497.4,407.1 506.2,414.2 514.8,417.5 523.3,417.8 527.6,411.4 549.2,414.9 557.8,418.2 566.3,422.1 574.7,414.7 579.2,413.1 583.2,416.4 592.1,430.6 600.6,417.1 609.1,416.2 616.4,414 626.5,389.7 635.1,398.2 643.5,390 652.4,399.1 660.9,408.4 669.4,392.7" fill="none" stroke="#169a6c" stroke-width="1.2"/>
<path d="M317.1,370.6 H324.3 L320.7,376.8Z" fill="#169a6c"/>
<path d="M321.7,372.0 H328.9 L325.3,378.2Z" fill="#169a6c"/>
<path d="M329.9,376.3 H337.1 L333.5,382.5Z" fill="#169a6c"/>
<path d="M338.8,371.5 H346.0 L342.4,377.7Z" fill="#169a6c"/>
<path d="M347.7,378.6 H354.9 L351.3,384.8Z" fill="#169a6c"/>
<path d="M356.2,377.5 H363.4 L359.8,383.7Z" fill="#169a6c"/>
<path d="M364.5,379.6 H371.7 L368.1,385.8Z" fill="#169a6c"/>
<path d="M373.1,383.1 H380.3 L376.7,389.3Z" fill="#169a6c"/>
<path d="M381.6,391.0 H388.8 L385.2,397.2Z" fill="#169a6c"/>
<path d="M390.1,389.5 H397.3 L393.7,395.7Z" fill="#169a6c"/>
<path d="M394.7,375.1 H401.9 L398.3,381.3Z" fill="#169a6c"/>
<path d="M399.1,391.2 H406.3 L402.7,397.4Z" fill="#169a6c"/>
<path d="M407.5,386.7 H414.7 L411.1,392.9Z" fill="#169a6c"/>
<path d="M416.1,393.8 H423.3 L419.7,400.0Z" fill="#169a6c"/>
<path d="M424.6,393.8 H431.8 L428.2,400.0Z" fill="#169a6c"/>
<path d="M433.6,401.7 H440.8 L437.2,407.9Z" fill="#169a6c"/>
<path d="M442.1,399.7 H449.3 L445.7,405.9Z" fill="#169a6c"/>
<path d="M450.6,396.0 H457.8 L454.2,402.2Z" fill="#169a6c"/>
<path d="M459.2,401.7 H466.4 L462.8,407.9Z" fill="#169a6c"/>
<path d="M467.7,404.5 H474.9 L471.3,410.7Z" fill="#169a6c"/>
<path d="M476.6,402.6 H483.8 L480.2,408.8Z" fill="#169a6c"/>
<path d="M484.8,408.1 H492.0 L488.4,414.3Z" fill="#169a6c"/>
<path d="M493.8,404.6 H501.0 L497.4,410.8Z" fill="#169a6c"/>
<path d="M502.6,411.7 H509.8 L506.2,417.9Z" fill="#169a6c"/>
<path d="M511.2,415.0 H518.4 L514.8,421.2Z" fill="#169a6c"/>
<path d="M519.7,415.3 H526.9 L523.3,421.5Z" fill="#169a6c"/>
<path d="M524.0,408.9 H531.2 L527.6,415.1Z" fill="#169a6c"/>
<path d="M545.6,412.4 H552.8 L549.2,418.6Z" fill="#169a6c"/>
<path d="M554.2,415.7 H561.4 L557.8,421.9Z" fill="#169a6c"/>
<path d="M562.7,419.6 H569.9 L566.3,425.8Z" fill="#169a6c"/>
<path d="M571.1,412.2 H578.3 L574.7,418.4Z" fill="#169a6c"/>
<path d="M575.6,410.6 H582.8 L579.2,416.8Z" fill="#169a6c"/>
<path d="M579.6,413.9 H586.8 L583.2,420.1Z" fill="#169a6c"/>
<path d="M588.5,428.1 H595.7 L592.1,434.3Z" fill="#169a6c"/>
<path d="M597.0,414.6 H604.2 L600.6,420.8Z" fill="#169a6c"/>
<path d="M605.5,413.7 H612.7 L609.1,419.9Z" fill="#169a6c"/>
<path d="M612.8,411.5 H620.0 L616.4,417.7Z" fill="#169a6c"/>
<path d="M622.9,387.2 H630.1 L626.5,393.4Z" fill="#169a6c"/>
<path d="M631.5,395.7 H638.7 L635.1,401.9Z" fill="#169a6c"/>
<path d="M639.9,387.5 H647.1 L643.5,393.7Z" fill="#169a6c"/>
<path d="M648.8,396.6 H656.0 L652.4,402.8Z" fill="#169a6c"/>
<path d="M657.3,405.9 H664.5 L660.9,412.1Z" fill="#169a6c"/>
<path d="M665.8,390.2 H673.0 L669.4,396.4Z" fill="#169a6c"/>
<polyline points="320.7,384.9 325.3,389.2 333.5,383.5 342.4,385.4 351.3,393.5 359.8,398.4 368.1,398.7 376.7,401.3 385.2,394.9 393.7,405.9 398.3,389.2 402.7,404.3 411.1,398.5 419.7,410.1 428.2,414.8 437.2,422.7 445.7,417.4 454.2,412.7 462.8,416 471.3,411.3 480.2,414.2 488.4,416.8 497.4,420.6 506.2,414.2 514.8,413.5 523.3,414.2 527.6,410.5 549.2,414.9 557.8,425.9 566.3,423.9 574.7,414.4 579.2,419.2 583.2,408.2 592.1,432 600.6,417.8 609.1,410.8 616.4,418.8 626.5,399.4 635.1,386.4 643.5,376.7 652.4,387 660.9,397.5 669.4,395.2" fill="none" stroke="#0a6fbf" stroke-width="1.2"/>
<path d="M320.7,381.0 L324.6,384.9 L320.7,388.8 L316.8,384.9Z" fill="#0a6fbf"/>
<path d="M325.3,385.3 L329.2,389.2 L325.3,393.1 L321.4,389.2Z" fill="#0a6fbf"/>
<path d="M333.5,379.6 L337.4,383.5 L333.5,387.4 L329.6,383.5Z" fill="#0a6fbf"/>
<path d="M342.4,381.5 L346.3,385.4 L342.4,389.3 L338.5,385.4Z" fill="#0a6fbf"/>
<path d="M351.3,389.6 L355.2,393.5 L351.3,397.4 L347.4,393.5Z" fill="#0a6fbf"/>
<path d="M359.8,394.5 L363.7,398.4 L359.8,402.3 L355.9,398.4Z" fill="#0a6fbf"/>
<path d="M368.1,394.8 L372.0,398.7 L368.1,402.6 L364.2,398.7Z" fill="#0a6fbf"/>
<path d="M376.7,397.4 L380.6,401.3 L376.7,405.2 L372.8,401.3Z" fill="#0a6fbf"/>
<path d="M385.2,391.0 L389.1,394.9 L385.2,398.8 L381.3,394.9Z" fill="#0a6fbf"/>
<path d="M393.7,402.0 L397.6,405.9 L393.7,409.8 L389.8,405.9Z" fill="#0a6fbf"/>
<path d="M398.3,385.3 L402.2,389.2 L398.3,393.1 L394.4,389.2Z" fill="#0a6fbf"/>
<path d="M402.7,400.4 L406.6,404.3 L402.7,408.2 L398.8,404.3Z" fill="#0a6fbf"/>
<path d="M411.1,394.6 L415.0,398.5 L411.1,402.4 L407.2,398.5Z" fill="#0a6fbf"/>
<path d="M419.7,406.2 L423.6,410.1 L419.7,414.0 L415.8,410.1Z" fill="#0a6fbf"/>
<path d="M428.2,410.9 L432.1,414.8 L428.2,418.7 L424.3,414.8Z" fill="#0a6fbf"/>
<path d="M437.2,418.8 L441.1,422.7 L437.2,426.6 L433.3,422.7Z" fill="#0a6fbf"/>
<path d="M445.7,413.5 L449.6,417.4 L445.7,421.3 L441.8,417.4Z" fill="#0a6fbf"/>
<path d="M454.2,408.8 L458.1,412.7 L454.2,416.6 L450.3,412.7Z" fill="#0a6fbf"/>
<path d="M462.8,412.1 L466.7,416.0 L462.8,419.9 L458.9,416.0Z" fill="#0a6fbf"/>
<path d="M471.3,407.4 L475.2,411.3 L471.3,415.2 L467.4,411.3Z" fill="#0a6fbf"/>
<path d="M480.2,410.3 L484.1,414.2 L480.2,418.1 L476.3,414.2Z" fill="#0a6fbf"/>
<path d="M488.4,412.9 L492.3,416.8 L488.4,420.7 L484.5,416.8Z" fill="#0a6fbf"/>
<path d="M497.4,416.7 L501.3,420.6 L497.4,424.5 L493.5,420.6Z" fill="#0a6fbf"/>
<path d="M506.2,410.3 L510.1,414.2 L506.2,418.1 L502.3,414.2Z" fill="#0a6fbf"/>
<path d="M514.8,409.6 L518.7,413.5 L514.8,417.4 L510.9,413.5Z" fill="#0a6fbf"/>
<path d="M523.3,410.3 L527.2,414.2 L523.3,418.1 L519.4,414.2Z" fill="#0a6fbf"/>
<path d="M527.6,406.6 L531.5,410.5 L527.6,414.4 L523.7,410.5Z" fill="#0a6fbf"/>
<path d="M549.2,411.0 L553.1,414.9 L549.2,418.8 L545.3,414.9Z" fill="#0a6fbf"/>
<path d="M557.8,422.0 L561.7,425.9 L557.8,429.8 L553.9,425.9Z" fill="#0a6fbf"/>
<path d="M566.3,420.0 L570.2,423.9 L566.3,427.8 L562.4,423.9Z" fill="#0a6fbf"/>
<path d="M574.7,410.5 L578.6,414.4 L574.7,418.3 L570.8,414.4Z" fill="#0a6fbf"/>
<path d="M579.2,415.3 L583.1,419.2 L579.2,423.1 L575.3,419.2Z" fill="#0a6fbf"/>
<path d="M583.2,404.3 L587.1,408.2 L583.2,412.1 L579.3,408.2Z" fill="#0a6fbf"/>
<path d="M592.1,428.1 L596.0,432.0 L592.1,435.9 L588.2,432.0Z" fill="#0a6fbf"/>
<path d="M600.6,413.9 L604.5,417.8 L600.6,421.7 L596.7,417.8Z" fill="#0a6fbf"/>
<path d="M609.1,406.9 L613.0,410.8 L609.1,414.7 L605.2,410.8Z" fill="#0a6fbf"/>
<path d="M616.4,414.9 L620.3,418.8 L616.4,422.7 L612.5,418.8Z" fill="#0a6fbf"/>
<path d="M626.5,395.5 L630.4,399.4 L626.5,403.3 L622.6,399.4Z" fill="#0a6fbf"/>
<path d="M635.1,382.5 L639.0,386.4 L635.1,390.3 L631.2,386.4Z" fill="#0a6fbf"/>
<path d="M643.5,372.8 L647.4,376.7 L643.5,380.6 L639.6,376.7Z" fill="#0a6fbf"/>
<path d="M652.4,383.1 L656.3,387.0 L652.4,390.9 L648.5,387.0Z" fill="#0a6fbf"/>
<path d="M660.9,393.6 L664.8,397.5 L660.9,401.4 L657.0,397.5Z" fill="#0a6fbf"/>
<path d="M669.4,391.3 L673.3,395.2 L669.4,399.1 L665.5,395.2Z" fill="#0a6fbf"/>
<rect x="327.2" y="441.6" width="219" height="13.4" fill="#fff" stroke="#a0a0a0" stroke-width="0.8"/>
<line x1="328.5" y1="448.4" x2="348.1" y2="448.4" stroke="#b7850f" stroke-width="1.2"/>
<circle cx="338.3" cy="448.4" r="2.6" fill="#b7850f"/>
<text x="352.6" y="451.4" font-size="8.3" text-anchor="start" font-weight="bold"  stroke="#000" stroke-width="0.18">LP01</text>
<line x1="382.3" y1="448.4" x2="401.6" y2="448.4" stroke="#7a0f98" stroke-width="1.2"/>
<rect x="389.4" y="445.9" width="5.0" height="5.0" fill="#7a0f98"/>
<text x="406.9" y="451.4" font-size="8.3" text-anchor="start" font-weight="bold"  stroke="#000" stroke-width="0.18">LP11a</text>
<line x1="441.0" y1="448.4" x2="460.0" y2="448.4" stroke="#169a6c" stroke-width="1.2"/>
<path d="M446.9,445.9 H454.1 L450.5,452.1Z" fill="#169a6c"/>
<text x="464.7" y="451.4" font-size="8.3" text-anchor="start" font-weight="bold"  stroke="#000" stroke-width="0.18">LP11b</text>
<line x1="500.2" y1="448.4" x2="518.8" y2="448.4" stroke="#0a6fbf" stroke-width="1.2"/>
<path d="M509.4,444.5 L513.3,448.4 L509.4,452.3 L505.5,448.4Z" fill="#0a6fbf"/>
<text x="524.0" y="451.4" font-size="8.3" text-anchor="start" font-weight="bold"  stroke="#000" stroke-width="0.18">LP21</text>
<path d="M317.5,236.1 V463.5 M673.3,236.1 V463.5 M316.5,242.4 H674.3 M317.5,352.7 H673.3 M316.5,462.5 H674.3" stroke="#000" stroke-width="2.1" fill="none"/>
<line x1="403.0" y1="236.1" x2="403.0" y2="247.4" stroke="#000" stroke-width="1.9"/>
<line x1="403.0" y1="346.2" x2="403.0" y2="358.7" stroke="#000" stroke-width="1.9"/>
<line x1="488.6" y1="236.1" x2="488.6" y2="247.4" stroke="#000" stroke-width="1.9"/>
<line x1="488.6" y1="346.2" x2="488.6" y2="358.7" stroke="#000" stroke-width="1.9"/>
<line x1="548.8" y1="236.1" x2="548.8" y2="247.4" stroke="#000" stroke-width="1.9"/>
<line x1="548.8" y1="346.2" x2="548.8" y2="358.7" stroke="#000" stroke-width="1.9"/>
<line x1="578.8" y1="236.1" x2="578.8" y2="247.4" stroke="#000" stroke-width="1.9"/>
<line x1="578.8" y1="346.2" x2="578.8" y2="358.7" stroke="#000" stroke-width="1.9"/>
<line x1="630.0" y1="236.1" x2="630.0" y2="247.4" stroke="#000" stroke-width="1.9"/>
<line x1="630.0" y1="346.2" x2="630.0" y2="358.7" stroke="#000" stroke-width="1.9"/>
<line x1="317.5" y1="257.5" x2="323.0" y2="257.5" stroke="#000" stroke-width="1.9"/>
<line x1="673.3" y1="257.5" x2="667.8" y2="257.5" stroke="#000" stroke-width="1.9"/>
<text transform="translate(313.4,261.0) scale(1.0,1.1)" font-size="9.9" text-anchor="end" font-weight="bold"  stroke="#000" stroke-width="0.18">4.8</text>
<line x1="317.5" y1="277.5" x2="323.0" y2="277.5" stroke="#000" stroke-width="1.9"/>
<line x1="673.3" y1="277.5" x2="667.8" y2="277.5" stroke="#000" stroke-width="1.9"/>
<text transform="translate(313.4,281.0) scale(1.0,1.1)" font-size="9.9" text-anchor="end" font-weight="bold"  stroke="#000" stroke-width="0.18">4.4</text>
<line x1="317.5" y1="297.6" x2="323.0" y2="297.6" stroke="#000" stroke-width="1.9"/>
<line x1="673.3" y1="297.6" x2="667.8" y2="297.6" stroke="#000" stroke-width="1.9"/>
<text transform="translate(313.4,301.1) scale(1.0,1.1)" font-size="9.9" text-anchor="end" font-weight="bold"  stroke="#000" stroke-width="0.18">4.0</text>
<line x1="317.5" y1="317.6" x2="323.0" y2="317.6" stroke="#000" stroke-width="1.9"/>
<line x1="673.3" y1="317.6" x2="667.8" y2="317.6" stroke="#000" stroke-width="1.9"/>
<text transform="translate(313.4,321.1) scale(1.0,1.1)" font-size="9.9" text-anchor="end" font-weight="bold"  stroke="#000" stroke-width="0.18">3.6</text>
<line x1="317.5" y1="337.7" x2="323.0" y2="337.7" stroke="#000" stroke-width="1.9"/>
<line x1="673.3" y1="337.7" x2="667.8" y2="337.7" stroke="#000" stroke-width="1.9"/>
<text transform="translate(313.4,341.2) scale(1.0,1.1)" font-size="9.9" text-anchor="end" font-weight="bold"  stroke="#000" stroke-width="0.18">3.2</text>
<line x1="317.5" y1="366.0" x2="323.0" y2="366.0" stroke="#000" stroke-width="1.9"/>
<line x1="673.3" y1="366.0" x2="667.8" y2="366.0" stroke="#000" stroke-width="1.9"/>
<text transform="translate(313.4,369.5) scale(1.0,1.1)" font-size="9.9" text-anchor="end" font-weight="bold"  stroke="#000" stroke-width="0.18">4.4</text>
<line x1="317.5" y1="387.0" x2="323.0" y2="387.0" stroke="#000" stroke-width="1.9"/>
<line x1="673.3" y1="387.0" x2="667.8" y2="387.0" stroke="#000" stroke-width="1.9"/>
<text transform="translate(313.4,390.5) scale(1.0,1.1)" font-size="9.9" text-anchor="end" font-weight="bold"  stroke="#000" stroke-width="0.18">4.0</text>
<line x1="317.5" y1="408.0" x2="323.0" y2="408.0" stroke="#000" stroke-width="1.9"/>
<line x1="673.3" y1="408.0" x2="667.8" y2="408.0" stroke="#000" stroke-width="1.9"/>
<text transform="translate(313.4,411.5) scale(1.0,1.1)" font-size="9.9" text-anchor="end" font-weight="bold"  stroke="#000" stroke-width="0.18">3.6</text>
<line x1="317.5" y1="429.0" x2="323.0" y2="429.0" stroke="#000" stroke-width="1.9"/>
<line x1="673.3" y1="429.0" x2="667.8" y2="429.0" stroke="#000" stroke-width="1.9"/>
<text transform="translate(313.4,432.5) scale(1.0,1.1)" font-size="9.9" text-anchor="end" font-weight="bold"  stroke="#000" stroke-width="0.18">3.2</text>
<line x1="317.5" y1="449.8" x2="323.0" y2="449.8" stroke="#000" stroke-width="1.9"/>
<line x1="673.3" y1="449.8" x2="667.8" y2="449.8" stroke="#000" stroke-width="1.9"/>
<text transform="translate(313.4,453.3) scale(1.0,1.1)" font-size="9.9" text-anchor="end" font-weight="bold"  stroke="#000" stroke-width="0.18">2.8</text>
<text transform="translate(360.9,239.8) scale(1.0,1.15)" font-size="10.2" text-anchor="middle" font-weight="bold"  stroke="#000" stroke-width="0.18">O</text>
<text transform="translate(448.1,239.8) scale(1.0,1.15)" font-size="10.2" text-anchor="middle" font-weight="bold"  stroke="#000" stroke-width="0.18">E</text>
<text transform="translate(519.8,239.8) scale(1.0,1.15)" font-size="10.2" text-anchor="middle" font-weight="bold"  stroke="#000" stroke-width="0.18">S</text>
<text transform="translate(564.3,239.8) scale(1.0,1.15)" font-size="10.2" text-anchor="middle" font-weight="bold"  stroke="#000" stroke-width="0.18">C</text>
<text transform="translate(605.4,239.8) scale(1.0,1.15)" font-size="10.2" text-anchor="middle" font-weight="bold"  stroke="#000" stroke-width="0.18">L</text>
<text transform="translate(653.6,239.8) scale(1.0,1.15)" font-size="10.2" text-anchor="middle" font-weight="bold"  stroke="#000" stroke-width="0.18">U</text>
<text transform="translate(317.8,474.2) scale(1.0,1.12)" font-size="9.8" text-anchor="middle" font-weight="bold"  stroke="#000" stroke-width="0.18">1260</text>
<text transform="translate(403.3,474.2) scale(1.0,1.12)" font-size="9.8" text-anchor="middle" font-weight="bold"  stroke="#000" stroke-width="0.18">1360</text>
<text transform="translate(488.90000000000003,474.2) scale(1.0,1.12)" font-size="9.8" text-anchor="middle" font-weight="bold"  stroke="#000" stroke-width="0.18">1460</text>
<text transform="translate(549.0999999999999,474.2) scale(1.0,1.12)" font-size="9.8" text-anchor="middle" font-weight="bold"  stroke="#000" stroke-width="0.18">1530</text>
<text transform="translate(579.0999999999999,474.2) scale(1.0,1.12)" font-size="9.8" text-anchor="middle" font-weight="bold"  stroke="#000" stroke-width="0.18">1565</text>
<text transform="translate(630.3,474.2) scale(1.0,1.12)" font-size="9.8" text-anchor="middle" font-weight="bold"  stroke="#000" stroke-width="0.18">1625</text>
<text transform="translate(673.3,474.2) scale(1.0,1.12)" font-size="9.8" text-anchor="middle" font-weight="bold"  stroke="#000" stroke-width="0.18">1675</text>
<text x="495.2" y="486.0" font-size="10.6" text-anchor="middle" font-weight="bold"  stroke="#000" stroke-width="0.18">Wavelength (nm)</text>
<text transform="translate(295.6,355) rotate(-90)" font-size="10.5" text-anchor="middle" font-weight="bold">Loss-fiber to fiber (dB)</text>
<text x="291.8" y="236.2" font-size="14" text-anchor="middle" font-weight="bold"  stroke="#000" stroke-width="0.18">d</text>
</svg></body></html>
